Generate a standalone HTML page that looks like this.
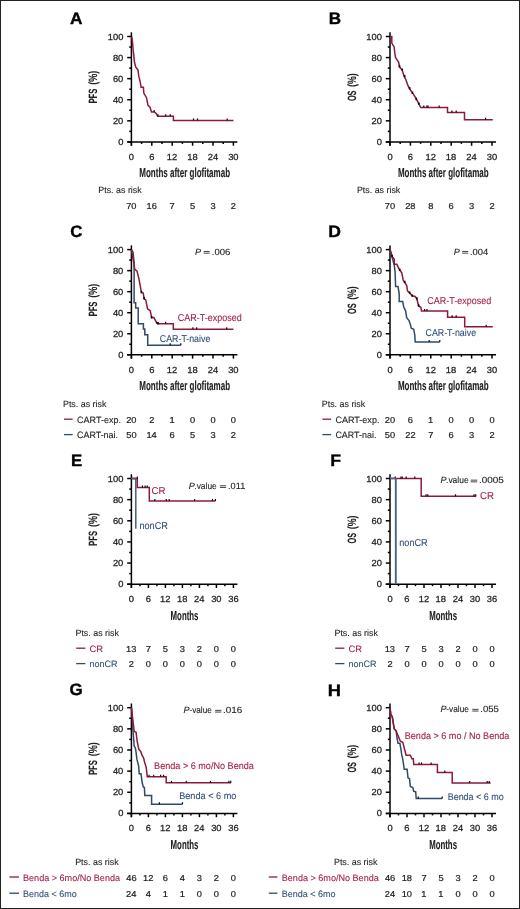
<!DOCTYPE html>
<html><head><meta charset="utf-8"><style>
html,body{margin:0;padding:0;background:#fff;}
svg{display:block;filter:grayscale(0);}
text{font-family:"Liberation Sans", sans-serif;text-rendering:geometricPrecision;}
</style></head><body>
<svg width="520" height="909" viewBox="0 0 520 909">
<g>
<rect x="0" y="0" width="520" height="909" fill="#fff"/>
<line x1="131.40" y1="32.30" x2="131.40" y2="145.70" stroke="#000" stroke-width="1.5"/>
<line x1="127.20" y1="141.90" x2="237.40" y2="141.90" stroke="#000" stroke-width="1.5"/>
<line x1="127.20" y1="141.90" x2="131.40" y2="141.90" stroke="#000" stroke-width="1.5"/>
<line x1="129.20" y1="131.36" x2="131.40" y2="131.36" stroke="#000" stroke-width="1.5"/>
<line x1="127.20" y1="120.82" x2="131.40" y2="120.82" stroke="#000" stroke-width="1.5"/>
<line x1="129.20" y1="110.28" x2="131.40" y2="110.28" stroke="#000" stroke-width="1.5"/>
<line x1="127.20" y1="99.74" x2="131.40" y2="99.74" stroke="#000" stroke-width="1.5"/>
<line x1="129.20" y1="89.20" x2="131.40" y2="89.20" stroke="#000" stroke-width="1.5"/>
<line x1="127.20" y1="78.66" x2="131.40" y2="78.66" stroke="#000" stroke-width="1.5"/>
<line x1="129.20" y1="68.12" x2="131.40" y2="68.12" stroke="#000" stroke-width="1.5"/>
<line x1="127.20" y1="57.58" x2="131.40" y2="57.58" stroke="#000" stroke-width="1.5"/>
<line x1="129.20" y1="47.04" x2="131.40" y2="47.04" stroke="#000" stroke-width="1.5"/>
<line x1="127.20" y1="36.50" x2="131.40" y2="36.50" stroke="#000" stroke-width="1.5"/>
<line x1="131.40" y1="141.90" x2="131.40" y2="145.70" stroke="#000" stroke-width="1.5"/>
<line x1="141.60" y1="141.90" x2="141.60" y2="143.90" stroke="#000" stroke-width="1.5"/>
<line x1="151.80" y1="141.90" x2="151.80" y2="145.70" stroke="#000" stroke-width="1.5"/>
<line x1="162.00" y1="141.90" x2="162.00" y2="143.90" stroke="#000" stroke-width="1.5"/>
<line x1="172.20" y1="141.90" x2="172.20" y2="145.70" stroke="#000" stroke-width="1.5"/>
<line x1="182.40" y1="141.90" x2="182.40" y2="143.90" stroke="#000" stroke-width="1.5"/>
<line x1="192.60" y1="141.90" x2="192.60" y2="145.70" stroke="#000" stroke-width="1.5"/>
<line x1="202.80" y1="141.90" x2="202.80" y2="143.90" stroke="#000" stroke-width="1.5"/>
<line x1="213.00" y1="141.90" x2="213.00" y2="145.70" stroke="#000" stroke-width="1.5"/>
<line x1="223.20" y1="141.90" x2="223.20" y2="143.90" stroke="#000" stroke-width="1.5"/>
<line x1="233.40" y1="141.90" x2="233.40" y2="145.70" stroke="#000" stroke-width="1.5"/>
<line x1="390.00" y1="32.30" x2="390.00" y2="145.70" stroke="#000" stroke-width="1.5"/>
<line x1="385.80" y1="141.90" x2="496.00" y2="141.90" stroke="#000" stroke-width="1.5"/>
<line x1="385.80" y1="141.90" x2="390.00" y2="141.90" stroke="#000" stroke-width="1.5"/>
<line x1="387.80" y1="131.36" x2="390.00" y2="131.36" stroke="#000" stroke-width="1.5"/>
<line x1="385.80" y1="120.82" x2="390.00" y2="120.82" stroke="#000" stroke-width="1.5"/>
<line x1="387.80" y1="110.28" x2="390.00" y2="110.28" stroke="#000" stroke-width="1.5"/>
<line x1="385.80" y1="99.74" x2="390.00" y2="99.74" stroke="#000" stroke-width="1.5"/>
<line x1="387.80" y1="89.20" x2="390.00" y2="89.20" stroke="#000" stroke-width="1.5"/>
<line x1="385.80" y1="78.66" x2="390.00" y2="78.66" stroke="#000" stroke-width="1.5"/>
<line x1="387.80" y1="68.12" x2="390.00" y2="68.12" stroke="#000" stroke-width="1.5"/>
<line x1="385.80" y1="57.58" x2="390.00" y2="57.58" stroke="#000" stroke-width="1.5"/>
<line x1="387.80" y1="47.04" x2="390.00" y2="47.04" stroke="#000" stroke-width="1.5"/>
<line x1="385.80" y1="36.50" x2="390.00" y2="36.50" stroke="#000" stroke-width="1.5"/>
<line x1="390.00" y1="141.90" x2="390.00" y2="145.70" stroke="#000" stroke-width="1.5"/>
<line x1="400.20" y1="141.90" x2="400.20" y2="143.90" stroke="#000" stroke-width="1.5"/>
<line x1="410.40" y1="141.90" x2="410.40" y2="145.70" stroke="#000" stroke-width="1.5"/>
<line x1="420.60" y1="141.90" x2="420.60" y2="143.90" stroke="#000" stroke-width="1.5"/>
<line x1="430.80" y1="141.90" x2="430.80" y2="145.70" stroke="#000" stroke-width="1.5"/>
<line x1="441.00" y1="141.90" x2="441.00" y2="143.90" stroke="#000" stroke-width="1.5"/>
<line x1="451.20" y1="141.90" x2="451.20" y2="145.70" stroke="#000" stroke-width="1.5"/>
<line x1="461.40" y1="141.90" x2="461.40" y2="143.90" stroke="#000" stroke-width="1.5"/>
<line x1="471.60" y1="141.90" x2="471.60" y2="145.70" stroke="#000" stroke-width="1.5"/>
<line x1="481.80" y1="141.90" x2="481.80" y2="143.90" stroke="#000" stroke-width="1.5"/>
<line x1="492.00" y1="141.90" x2="492.00" y2="145.70" stroke="#000" stroke-width="1.5"/>
<line x1="131.40" y1="245.40" x2="131.40" y2="358.60" stroke="#000" stroke-width="1.5"/>
<line x1="127.20" y1="354.80" x2="237.40" y2="354.80" stroke="#000" stroke-width="1.5"/>
<line x1="127.20" y1="354.80" x2="131.40" y2="354.80" stroke="#000" stroke-width="1.5"/>
<line x1="129.20" y1="344.28" x2="131.40" y2="344.28" stroke="#000" stroke-width="1.5"/>
<line x1="127.20" y1="333.76" x2="131.40" y2="333.76" stroke="#000" stroke-width="1.5"/>
<line x1="129.20" y1="323.24" x2="131.40" y2="323.24" stroke="#000" stroke-width="1.5"/>
<line x1="127.20" y1="312.72" x2="131.40" y2="312.72" stroke="#000" stroke-width="1.5"/>
<line x1="129.20" y1="302.20" x2="131.40" y2="302.20" stroke="#000" stroke-width="1.5"/>
<line x1="127.20" y1="291.68" x2="131.40" y2="291.68" stroke="#000" stroke-width="1.5"/>
<line x1="129.20" y1="281.16" x2="131.40" y2="281.16" stroke="#000" stroke-width="1.5"/>
<line x1="127.20" y1="270.64" x2="131.40" y2="270.64" stroke="#000" stroke-width="1.5"/>
<line x1="129.20" y1="260.12" x2="131.40" y2="260.12" stroke="#000" stroke-width="1.5"/>
<line x1="127.20" y1="249.60" x2="131.40" y2="249.60" stroke="#000" stroke-width="1.5"/>
<line x1="131.40" y1="354.80" x2="131.40" y2="358.60" stroke="#000" stroke-width="1.5"/>
<line x1="141.60" y1="354.80" x2="141.60" y2="356.80" stroke="#000" stroke-width="1.5"/>
<line x1="151.80" y1="354.80" x2="151.80" y2="358.60" stroke="#000" stroke-width="1.5"/>
<line x1="162.00" y1="354.80" x2="162.00" y2="356.80" stroke="#000" stroke-width="1.5"/>
<line x1="172.20" y1="354.80" x2="172.20" y2="358.60" stroke="#000" stroke-width="1.5"/>
<line x1="182.40" y1="354.80" x2="182.40" y2="356.80" stroke="#000" stroke-width="1.5"/>
<line x1="192.60" y1="354.80" x2="192.60" y2="358.60" stroke="#000" stroke-width="1.5"/>
<line x1="202.80" y1="354.80" x2="202.80" y2="356.80" stroke="#000" stroke-width="1.5"/>
<line x1="213.00" y1="354.80" x2="213.00" y2="358.60" stroke="#000" stroke-width="1.5"/>
<line x1="223.20" y1="354.80" x2="223.20" y2="356.80" stroke="#000" stroke-width="1.5"/>
<line x1="233.40" y1="354.80" x2="233.40" y2="358.60" stroke="#000" stroke-width="1.5"/>
<line x1="390.00" y1="245.40" x2="390.00" y2="358.60" stroke="#000" stroke-width="1.5"/>
<line x1="385.80" y1="354.80" x2="496.00" y2="354.80" stroke="#000" stroke-width="1.5"/>
<line x1="385.80" y1="354.80" x2="390.00" y2="354.80" stroke="#000" stroke-width="1.5"/>
<line x1="387.80" y1="344.28" x2="390.00" y2="344.28" stroke="#000" stroke-width="1.5"/>
<line x1="385.80" y1="333.76" x2="390.00" y2="333.76" stroke="#000" stroke-width="1.5"/>
<line x1="387.80" y1="323.24" x2="390.00" y2="323.24" stroke="#000" stroke-width="1.5"/>
<line x1="385.80" y1="312.72" x2="390.00" y2="312.72" stroke="#000" stroke-width="1.5"/>
<line x1="387.80" y1="302.20" x2="390.00" y2="302.20" stroke="#000" stroke-width="1.5"/>
<line x1="385.80" y1="291.68" x2="390.00" y2="291.68" stroke="#000" stroke-width="1.5"/>
<line x1="387.80" y1="281.16" x2="390.00" y2="281.16" stroke="#000" stroke-width="1.5"/>
<line x1="385.80" y1="270.64" x2="390.00" y2="270.64" stroke="#000" stroke-width="1.5"/>
<line x1="387.80" y1="260.12" x2="390.00" y2="260.12" stroke="#000" stroke-width="1.5"/>
<line x1="385.80" y1="249.60" x2="390.00" y2="249.60" stroke="#000" stroke-width="1.5"/>
<line x1="390.00" y1="354.80" x2="390.00" y2="358.60" stroke="#000" stroke-width="1.5"/>
<line x1="400.20" y1="354.80" x2="400.20" y2="356.80" stroke="#000" stroke-width="1.5"/>
<line x1="410.40" y1="354.80" x2="410.40" y2="358.60" stroke="#000" stroke-width="1.5"/>
<line x1="420.60" y1="354.80" x2="420.60" y2="356.80" stroke="#000" stroke-width="1.5"/>
<line x1="430.80" y1="354.80" x2="430.80" y2="358.60" stroke="#000" stroke-width="1.5"/>
<line x1="441.00" y1="354.80" x2="441.00" y2="356.80" stroke="#000" stroke-width="1.5"/>
<line x1="451.20" y1="354.80" x2="451.20" y2="358.60" stroke="#000" stroke-width="1.5"/>
<line x1="461.40" y1="354.80" x2="461.40" y2="356.80" stroke="#000" stroke-width="1.5"/>
<line x1="471.60" y1="354.80" x2="471.60" y2="358.60" stroke="#000" stroke-width="1.5"/>
<line x1="481.80" y1="354.80" x2="481.80" y2="356.80" stroke="#000" stroke-width="1.5"/>
<line x1="492.00" y1="354.80" x2="492.00" y2="358.60" stroke="#000" stroke-width="1.5"/>
<line x1="131.40" y1="474.30" x2="131.40" y2="588.00" stroke="#000" stroke-width="1.5"/>
<line x1="127.20" y1="584.20" x2="237.40" y2="584.20" stroke="#000" stroke-width="1.5"/>
<line x1="127.20" y1="584.20" x2="131.40" y2="584.20" stroke="#000" stroke-width="1.5"/>
<line x1="129.20" y1="573.63" x2="131.40" y2="573.63" stroke="#000" stroke-width="1.5"/>
<line x1="127.20" y1="563.06" x2="131.40" y2="563.06" stroke="#000" stroke-width="1.5"/>
<line x1="129.20" y1="552.49" x2="131.40" y2="552.49" stroke="#000" stroke-width="1.5"/>
<line x1="127.20" y1="541.92" x2="131.40" y2="541.92" stroke="#000" stroke-width="1.5"/>
<line x1="129.20" y1="531.35" x2="131.40" y2="531.35" stroke="#000" stroke-width="1.5"/>
<line x1="127.20" y1="520.78" x2="131.40" y2="520.78" stroke="#000" stroke-width="1.5"/>
<line x1="129.20" y1="510.21" x2="131.40" y2="510.21" stroke="#000" stroke-width="1.5"/>
<line x1="127.20" y1="499.64" x2="131.40" y2="499.64" stroke="#000" stroke-width="1.5"/>
<line x1="129.20" y1="489.07" x2="131.40" y2="489.07" stroke="#000" stroke-width="1.5"/>
<line x1="127.20" y1="478.50" x2="131.40" y2="478.50" stroke="#000" stroke-width="1.5"/>
<line x1="131.40" y1="584.20" x2="131.40" y2="588.00" stroke="#000" stroke-width="1.5"/>
<line x1="139.90" y1="584.20" x2="139.90" y2="586.20" stroke="#000" stroke-width="1.5"/>
<line x1="148.40" y1="584.20" x2="148.40" y2="588.00" stroke="#000" stroke-width="1.5"/>
<line x1="156.90" y1="584.20" x2="156.90" y2="586.20" stroke="#000" stroke-width="1.5"/>
<line x1="165.40" y1="584.20" x2="165.40" y2="588.00" stroke="#000" stroke-width="1.5"/>
<line x1="173.90" y1="584.20" x2="173.90" y2="586.20" stroke="#000" stroke-width="1.5"/>
<line x1="182.40" y1="584.20" x2="182.40" y2="588.00" stroke="#000" stroke-width="1.5"/>
<line x1="190.90" y1="584.20" x2="190.90" y2="586.20" stroke="#000" stroke-width="1.5"/>
<line x1="199.40" y1="584.20" x2="199.40" y2="588.00" stroke="#000" stroke-width="1.5"/>
<line x1="207.90" y1="584.20" x2="207.90" y2="586.20" stroke="#000" stroke-width="1.5"/>
<line x1="216.40" y1="584.20" x2="216.40" y2="588.00" stroke="#000" stroke-width="1.5"/>
<line x1="224.90" y1="584.20" x2="224.90" y2="586.20" stroke="#000" stroke-width="1.5"/>
<line x1="233.40" y1="584.20" x2="233.40" y2="588.00" stroke="#000" stroke-width="1.5"/>
<line x1="390.00" y1="474.30" x2="390.00" y2="588.00" stroke="#000" stroke-width="1.5"/>
<line x1="385.80" y1="584.20" x2="496.00" y2="584.20" stroke="#000" stroke-width="1.5"/>
<line x1="385.80" y1="584.20" x2="390.00" y2="584.20" stroke="#000" stroke-width="1.5"/>
<line x1="387.80" y1="573.63" x2="390.00" y2="573.63" stroke="#000" stroke-width="1.5"/>
<line x1="385.80" y1="563.06" x2="390.00" y2="563.06" stroke="#000" stroke-width="1.5"/>
<line x1="387.80" y1="552.49" x2="390.00" y2="552.49" stroke="#000" stroke-width="1.5"/>
<line x1="385.80" y1="541.92" x2="390.00" y2="541.92" stroke="#000" stroke-width="1.5"/>
<line x1="387.80" y1="531.35" x2="390.00" y2="531.35" stroke="#000" stroke-width="1.5"/>
<line x1="385.80" y1="520.78" x2="390.00" y2="520.78" stroke="#000" stroke-width="1.5"/>
<line x1="387.80" y1="510.21" x2="390.00" y2="510.21" stroke="#000" stroke-width="1.5"/>
<line x1="385.80" y1="499.64" x2="390.00" y2="499.64" stroke="#000" stroke-width="1.5"/>
<line x1="387.80" y1="489.07" x2="390.00" y2="489.07" stroke="#000" stroke-width="1.5"/>
<line x1="385.80" y1="478.50" x2="390.00" y2="478.50" stroke="#000" stroke-width="1.5"/>
<line x1="390.00" y1="584.20" x2="390.00" y2="588.00" stroke="#000" stroke-width="1.5"/>
<line x1="398.50" y1="584.20" x2="398.50" y2="586.20" stroke="#000" stroke-width="1.5"/>
<line x1="407.00" y1="584.20" x2="407.00" y2="588.00" stroke="#000" stroke-width="1.5"/>
<line x1="415.50" y1="584.20" x2="415.50" y2="586.20" stroke="#000" stroke-width="1.5"/>
<line x1="424.00" y1="584.20" x2="424.00" y2="588.00" stroke="#000" stroke-width="1.5"/>
<line x1="432.50" y1="584.20" x2="432.50" y2="586.20" stroke="#000" stroke-width="1.5"/>
<line x1="441.00" y1="584.20" x2="441.00" y2="588.00" stroke="#000" stroke-width="1.5"/>
<line x1="449.50" y1="584.20" x2="449.50" y2="586.20" stroke="#000" stroke-width="1.5"/>
<line x1="458.00" y1="584.20" x2="458.00" y2="588.00" stroke="#000" stroke-width="1.5"/>
<line x1="466.50" y1="584.20" x2="466.50" y2="586.20" stroke="#000" stroke-width="1.5"/>
<line x1="475.00" y1="584.20" x2="475.00" y2="588.00" stroke="#000" stroke-width="1.5"/>
<line x1="483.50" y1="584.20" x2="483.50" y2="586.20" stroke="#000" stroke-width="1.5"/>
<line x1="492.00" y1="584.20" x2="492.00" y2="588.00" stroke="#000" stroke-width="1.5"/>
<line x1="131.40" y1="703.50" x2="131.40" y2="817.20" stroke="#000" stroke-width="1.5"/>
<line x1="127.20" y1="813.40" x2="237.40" y2="813.40" stroke="#000" stroke-width="1.5"/>
<line x1="127.20" y1="813.40" x2="131.40" y2="813.40" stroke="#000" stroke-width="1.5"/>
<line x1="129.20" y1="802.83" x2="131.40" y2="802.83" stroke="#000" stroke-width="1.5"/>
<line x1="127.20" y1="792.26" x2="131.40" y2="792.26" stroke="#000" stroke-width="1.5"/>
<line x1="129.20" y1="781.69" x2="131.40" y2="781.69" stroke="#000" stroke-width="1.5"/>
<line x1="127.20" y1="771.12" x2="131.40" y2="771.12" stroke="#000" stroke-width="1.5"/>
<line x1="129.20" y1="760.55" x2="131.40" y2="760.55" stroke="#000" stroke-width="1.5"/>
<line x1="127.20" y1="749.98" x2="131.40" y2="749.98" stroke="#000" stroke-width="1.5"/>
<line x1="129.20" y1="739.41" x2="131.40" y2="739.41" stroke="#000" stroke-width="1.5"/>
<line x1="127.20" y1="728.84" x2="131.40" y2="728.84" stroke="#000" stroke-width="1.5"/>
<line x1="129.20" y1="718.27" x2="131.40" y2="718.27" stroke="#000" stroke-width="1.5"/>
<line x1="127.20" y1="707.70" x2="131.40" y2="707.70" stroke="#000" stroke-width="1.5"/>
<line x1="131.40" y1="813.40" x2="131.40" y2="817.20" stroke="#000" stroke-width="1.5"/>
<line x1="139.90" y1="813.40" x2="139.90" y2="815.40" stroke="#000" stroke-width="1.5"/>
<line x1="148.40" y1="813.40" x2="148.40" y2="817.20" stroke="#000" stroke-width="1.5"/>
<line x1="156.90" y1="813.40" x2="156.90" y2="815.40" stroke="#000" stroke-width="1.5"/>
<line x1="165.40" y1="813.40" x2="165.40" y2="817.20" stroke="#000" stroke-width="1.5"/>
<line x1="173.90" y1="813.40" x2="173.90" y2="815.40" stroke="#000" stroke-width="1.5"/>
<line x1="182.40" y1="813.40" x2="182.40" y2="817.20" stroke="#000" stroke-width="1.5"/>
<line x1="190.90" y1="813.40" x2="190.90" y2="815.40" stroke="#000" stroke-width="1.5"/>
<line x1="199.40" y1="813.40" x2="199.40" y2="817.20" stroke="#000" stroke-width="1.5"/>
<line x1="207.90" y1="813.40" x2="207.90" y2="815.40" stroke="#000" stroke-width="1.5"/>
<line x1="216.40" y1="813.40" x2="216.40" y2="817.20" stroke="#000" stroke-width="1.5"/>
<line x1="224.90" y1="813.40" x2="224.90" y2="815.40" stroke="#000" stroke-width="1.5"/>
<line x1="233.40" y1="813.40" x2="233.40" y2="817.20" stroke="#000" stroke-width="1.5"/>
<line x1="390.00" y1="703.50" x2="390.00" y2="817.20" stroke="#000" stroke-width="1.5"/>
<line x1="385.80" y1="813.40" x2="496.00" y2="813.40" stroke="#000" stroke-width="1.5"/>
<line x1="385.80" y1="813.40" x2="390.00" y2="813.40" stroke="#000" stroke-width="1.5"/>
<line x1="387.80" y1="802.83" x2="390.00" y2="802.83" stroke="#000" stroke-width="1.5"/>
<line x1="385.80" y1="792.26" x2="390.00" y2="792.26" stroke="#000" stroke-width="1.5"/>
<line x1="387.80" y1="781.69" x2="390.00" y2="781.69" stroke="#000" stroke-width="1.5"/>
<line x1="385.80" y1="771.12" x2="390.00" y2="771.12" stroke="#000" stroke-width="1.5"/>
<line x1="387.80" y1="760.55" x2="390.00" y2="760.55" stroke="#000" stroke-width="1.5"/>
<line x1="385.80" y1="749.98" x2="390.00" y2="749.98" stroke="#000" stroke-width="1.5"/>
<line x1="387.80" y1="739.41" x2="390.00" y2="739.41" stroke="#000" stroke-width="1.5"/>
<line x1="385.80" y1="728.84" x2="390.00" y2="728.84" stroke="#000" stroke-width="1.5"/>
<line x1="387.80" y1="718.27" x2="390.00" y2="718.27" stroke="#000" stroke-width="1.5"/>
<line x1="385.80" y1="707.70" x2="390.00" y2="707.70" stroke="#000" stroke-width="1.5"/>
<line x1="390.00" y1="813.40" x2="390.00" y2="817.20" stroke="#000" stroke-width="1.5"/>
<line x1="398.50" y1="813.40" x2="398.50" y2="815.40" stroke="#000" stroke-width="1.5"/>
<line x1="407.00" y1="813.40" x2="407.00" y2="817.20" stroke="#000" stroke-width="1.5"/>
<line x1="415.50" y1="813.40" x2="415.50" y2="815.40" stroke="#000" stroke-width="1.5"/>
<line x1="424.00" y1="813.40" x2="424.00" y2="817.20" stroke="#000" stroke-width="1.5"/>
<line x1="432.50" y1="813.40" x2="432.50" y2="815.40" stroke="#000" stroke-width="1.5"/>
<line x1="441.00" y1="813.40" x2="441.00" y2="817.20" stroke="#000" stroke-width="1.5"/>
<line x1="449.50" y1="813.40" x2="449.50" y2="815.40" stroke="#000" stroke-width="1.5"/>
<line x1="458.00" y1="813.40" x2="458.00" y2="817.20" stroke="#000" stroke-width="1.5"/>
<line x1="466.50" y1="813.40" x2="466.50" y2="815.40" stroke="#000" stroke-width="1.5"/>
<line x1="475.00" y1="813.40" x2="475.00" y2="817.20" stroke="#000" stroke-width="1.5"/>
<line x1="483.50" y1="813.40" x2="483.50" y2="815.40" stroke="#000" stroke-width="1.5"/>
<line x1="492.00" y1="813.40" x2="492.00" y2="817.20" stroke="#000" stroke-width="1.5"/>
<polyline points="131.40,249.60 133.00,252.00 134.10,262.00 134.10,302.70 135.70,302.70 135.70,308.00 138.20,308.00 138.20,323.80 143.40,323.80 143.40,329.00 144.80,329.00 144.80,334.80 147.70,334.80 147.70,345.30 180.80,345.30" fill="none" stroke="#304a68" stroke-width="1.5" stroke-linejoin="miter"/>
<polyline points="390.00,249.60 391.50,254.00 392.70,259.20 394.20,265.00 395.10,271.70 395.60,286.60 398.00,286.60 399.20,293.80 399.20,301.50 402.70,301.50 403.80,307.30 405.60,310.80 406.70,317.70 409.00,320.60 410.20,324.00 411.30,328.10 413.70,329.20 414.80,335.00 415.20,341.90 439.80,341.90" fill="none" stroke="#304a68" stroke-width="1.5" stroke-linejoin="miter"/>
<polyline points="131.40,478.50 135.80,478.50 135.80,528.80" fill="none" stroke="#45607f" stroke-width="1.5" stroke-linejoin="miter"/>
<polyline points="131.40,707.70 132.20,715.00 133.00,730.80 133.80,740.80 134.20,746.20 135.30,747.70 136.10,752.30 136.90,759.20 138.70,766.20 139.20,773.70 141.00,773.70 142.10,782.30 143.30,786.90 144.40,787.50 144.80,795.60 151.60,795.60 151.60,804.20 182.50,804.20" fill="none" stroke="#304a68" stroke-width="1.5" stroke-linejoin="miter"/>
<polyline points="390.00,707.70 390.80,714.40 392.30,716.80 394.20,728.80 396.10,730.80 397.10,738.50 398.00,743.30 399.90,743.30 400.90,749.00 401.90,755.80 402.30,756.70 403.70,765.40 404.20,769.20 407.10,769.20 408.00,777.90 409.50,778.80 410.40,786.50 412.80,787.50 413.80,791.30 415.70,791.80 416.20,798.60 442.20,798.60" fill="none" stroke="#304a68" stroke-width="1.5" stroke-linejoin="miter"/>
<polyline points="131.40,36.50 132.00,38.00 132.60,43.10 133.00,48.50 133.80,55.40 134.50,62.30 135.70,66.90 138.00,70.00 138.80,76.20 140.30,82.30 141.10,87.30 143.40,87.30 143.80,93.10 146.50,97.70 148.00,105.40 149.90,106.90 151.50,111.90 154.20,111.90 156.50,113.80 157.60,116.20 173.40,116.20 173.40,120.40 233.40,120.40" fill="none" stroke="#8c1a3b" stroke-width="1.5" stroke-linejoin="miter"/>
<line x1="154.20" y1="111.90" x2="154.20" y2="109.90" stroke="#1e0509" stroke-width="1.2"/>
<line x1="158.00" y1="116.20" x2="158.00" y2="114.20" stroke="#1e0509" stroke-width="1.2"/>
<line x1="165.70" y1="116.20" x2="165.70" y2="114.20" stroke="#1e0509" stroke-width="1.2"/>
<line x1="170.30" y1="116.20" x2="170.30" y2="114.20" stroke="#1e0509" stroke-width="1.2"/>
<line x1="193.50" y1="120.40" x2="193.50" y2="118.40" stroke="#1e0509" stroke-width="1.2"/>
<line x1="197.50" y1="120.40" x2="197.50" y2="118.40" stroke="#1e0509" stroke-width="1.2"/>
<line x1="227.20" y1="120.40" x2="227.20" y2="118.40" stroke="#1e0509" stroke-width="1.2"/>
<polyline points="390.00,36.50 391.80,36.50 391.80,43.10 394.10,46.90 394.80,53.10 395.60,57.70 398.70,62.30 399.50,66.90 402.20,70.00 404.10,76.20 406.00,80.00 407.90,85.40 409.80,89.20 410.40,90.00 412.70,93.10 416.50,99.20 418.80,103.80 420.80,107.60 447.50,107.60 447.50,112.40 464.50,112.40 464.50,119.80 492.80,119.80" fill="none" stroke="#8c1a3b" stroke-width="1.5" stroke-linejoin="miter"/>
<line x1="423.80" y1="107.60" x2="423.80" y2="105.60" stroke="#1e0509" stroke-width="1.2"/>
<line x1="426.90" y1="107.60" x2="426.90" y2="105.60" stroke="#1e0509" stroke-width="1.2"/>
<line x1="428.00" y1="107.60" x2="428.00" y2="105.60" stroke="#1e0509" stroke-width="1.2"/>
<line x1="439.20" y1="107.60" x2="439.20" y2="105.60" stroke="#1e0509" stroke-width="1.2"/>
<line x1="451.90" y1="112.40" x2="451.90" y2="110.40" stroke="#1e0509" stroke-width="1.2"/>
<line x1="456.20" y1="112.40" x2="456.20" y2="110.40" stroke="#1e0509" stroke-width="1.2"/>
<line x1="485.60" y1="119.80" x2="485.60" y2="117.80" stroke="#1e0509" stroke-width="1.2"/>
<line x1="399.50" y1="65.10" x2="399.50" y2="67.50" stroke="#1e0509" stroke-width="1.6"/>
<line x1="402.20" y1="68.40" x2="402.20" y2="70.80" stroke="#1e0509" stroke-width="1.6"/>
<line x1="404.60" y1="74.90" x2="404.60" y2="77.30" stroke="#1e0509" stroke-width="1.6"/>
<line x1="409.60" y1="87.10" x2="409.60" y2="89.50" stroke="#1e0509" stroke-width="1.6"/>
<line x1="412.40" y1="91.60" x2="412.40" y2="94.00" stroke="#1e0509" stroke-width="1.6"/>
<line x1="416.20" y1="97.80" x2="416.20" y2="100.20" stroke="#1e0509" stroke-width="1.6"/>
<line x1="418.90" y1="102.40" x2="418.90" y2="104.80" stroke="#1e0509" stroke-width="1.6"/>
<polyline points="131.40,249.60 131.80,252.00 133.50,261.40 134.80,269.40 137.00,271.10 138.80,278.20 140.60,287.90 141.40,292.30 143.20,293.10 144.10,298.40 145.80,300.20 147.60,309.00 150.20,310.70 151.60,317.50 153.80,317.50 156.40,322.20 158.00,323.70 173.30,323.70 173.30,329.20 233.40,329.20" fill="none" stroke="#8c1a3b" stroke-width="1.5" stroke-linejoin="miter"/>
<line x1="141.40" y1="290.90" x2="141.40" y2="293.30" stroke="#1e0509" stroke-width="1.6"/>
<line x1="144.10" y1="297.00" x2="144.10" y2="299.40" stroke="#1e0509" stroke-width="1.6"/>
<line x1="151.60" y1="316.10" x2="151.60" y2="318.50" stroke="#1e0509" stroke-width="1.6"/>
<line x1="158.00" y1="322.00" x2="158.00" y2="324.40" stroke="#1e0509" stroke-width="1.6"/>
<line x1="156.80" y1="323.70" x2="156.80" y2="321.70" stroke="#1e0509" stroke-width="1.2"/>
<line x1="165.60" y1="323.70" x2="165.60" y2="321.70" stroke="#1e0509" stroke-width="1.2"/>
<line x1="192.90" y1="329.20" x2="192.90" y2="327.20" stroke="#1e0509" stroke-width="1.2"/>
<line x1="196.70" y1="329.20" x2="196.70" y2="327.20" stroke="#1e0509" stroke-width="1.2"/>
<line x1="226.70" y1="329.20" x2="226.70" y2="327.20" stroke="#1e0509" stroke-width="1.2"/>
<line x1="170.20" y1="345.30" x2="170.20" y2="343.30" stroke="#0a121c" stroke-width="1.2"/>
<line x1="180.80" y1="345.30" x2="180.80" y2="343.30" stroke="#0a121c" stroke-width="1.2"/>
<polyline points="390.00,249.60 391.00,253.00 392.10,256.40 394.30,259.30 394.30,264.30 396.80,264.30 399.70,270.00 401.80,272.90 403.20,280.10 404.70,282.20 406.80,285.80 407.50,290.80 409.70,292.90 412.20,295.80 415.10,296.50 416.80,298.70 418.60,305.80 420.80,307.30 421.50,311.10 447.60,311.10 447.60,317.20 464.70,317.20 464.70,326.80 492.80,326.80" fill="none" stroke="#8c1a3b" stroke-width="1.5" stroke-linejoin="miter"/>
<line x1="392.10" y1="255.00" x2="392.10" y2="257.40" stroke="#1e0509" stroke-width="1.6"/>
<line x1="399.70" y1="268.60" x2="399.70" y2="271.00" stroke="#1e0509" stroke-width="1.6"/>
<line x1="404.70" y1="280.80" x2="404.70" y2="283.20" stroke="#1e0509" stroke-width="1.6"/>
<line x1="409.70" y1="291.50" x2="409.70" y2="293.90" stroke="#1e0509" stroke-width="1.6"/>
<line x1="412.20" y1="294.40" x2="412.20" y2="296.80" stroke="#1e0509" stroke-width="1.6"/>
<line x1="416.80" y1="297.30" x2="416.80" y2="299.70" stroke="#1e0509" stroke-width="1.6"/>
<line x1="418.60" y1="304.40" x2="418.60" y2="306.80" stroke="#1e0509" stroke-width="1.6"/>
<line x1="424.60" y1="311.10" x2="424.60" y2="309.10" stroke="#1e0509" stroke-width="1.2"/>
<line x1="426.90" y1="311.10" x2="426.90" y2="309.10" stroke="#1e0509" stroke-width="1.2"/>
<line x1="452.10" y1="317.20" x2="452.10" y2="315.20" stroke="#1e0509" stroke-width="1.2"/>
<line x1="456.20" y1="317.20" x2="456.20" y2="315.20" stroke="#1e0509" stroke-width="1.2"/>
<line x1="486.20" y1="326.80" x2="486.20" y2="324.80" stroke="#1e0509" stroke-width="1.2"/>
<line x1="429.20" y1="341.90" x2="429.20" y2="339.90" stroke="#0a121c" stroke-width="1.2"/>
<line x1="439.80" y1="341.90" x2="439.80" y2="339.90" stroke="#0a121c" stroke-width="1.2"/>
<polyline points="131.40,478.50 137.30,478.50 137.30,487.60 149.30,487.60 149.30,500.90 215.40,500.90" fill="none" stroke="#8c1a3b" stroke-width="1.5" stroke-linejoin="miter"/>
<line x1="137.30" y1="478.50" x2="137.30" y2="476.50" stroke="#1e0509" stroke-width="1.2"/>
<line x1="142.40" y1="487.60" x2="142.40" y2="485.60" stroke="#1e0509" stroke-width="1.2"/>
<line x1="145.10" y1="487.60" x2="145.10" y2="485.60" stroke="#1e0509" stroke-width="1.2"/>
<line x1="147.20" y1="487.60" x2="147.20" y2="485.60" stroke="#1e0509" stroke-width="1.2"/>
<line x1="154.80" y1="500.90" x2="154.80" y2="498.90" stroke="#1e0509" stroke-width="1.2"/>
<line x1="166.30" y1="500.90" x2="166.30" y2="498.90" stroke="#1e0509" stroke-width="1.2"/>
<line x1="169.20" y1="500.90" x2="169.20" y2="498.90" stroke="#1e0509" stroke-width="1.2"/>
<line x1="194.60" y1="500.90" x2="194.60" y2="498.90" stroke="#1e0509" stroke-width="1.2"/>
<line x1="212.50" y1="500.90" x2="212.50" y2="498.90" stroke="#1e0509" stroke-width="1.2"/>
<line x1="215.40" y1="500.90" x2="215.40" y2="498.90" stroke="#1e0509" stroke-width="1.2"/>
<polyline points="390.00,478.40 421.20,478.40 421.20,496.30 476.20,496.30" fill="none" stroke="#8c1a3b" stroke-width="1.5" stroke-linejoin="miter"/>
<line x1="395.20" y1="478.40" x2="395.20" y2="476.40" stroke="#1e0509" stroke-width="1.2"/>
<line x1="401.00" y1="478.40" x2="401.00" y2="476.40" stroke="#1e0509" stroke-width="1.2"/>
<line x1="402.20" y1="478.40" x2="402.20" y2="476.40" stroke="#1e0509" stroke-width="1.2"/>
<line x1="406.20" y1="478.40" x2="406.20" y2="476.40" stroke="#1e0509" stroke-width="1.2"/>
<line x1="414.80" y1="478.40" x2="414.80" y2="476.40" stroke="#1e0509" stroke-width="1.2"/>
<line x1="426.00" y1="496.30" x2="426.00" y2="494.30" stroke="#1e0509" stroke-width="1.2"/>
<line x1="427.80" y1="496.30" x2="427.80" y2="494.30" stroke="#1e0509" stroke-width="1.2"/>
<line x1="455.50" y1="496.30" x2="455.50" y2="494.30" stroke="#1e0509" stroke-width="1.2"/>
<line x1="474.00" y1="496.30" x2="474.00" y2="494.30" stroke="#1e0509" stroke-width="1.2"/>
<line x1="475.70" y1="496.30" x2="475.70" y2="494.30" stroke="#1e0509" stroke-width="1.2"/>
<line x1="390.00" y1="478.40" x2="395.80" y2="478.40" stroke="#4a6483" stroke-width="1.5"/>
<line x1="395.80" y1="478.40" x2="395.80" y2="584.20" stroke="#4a6483" stroke-width="1.9"/>
<polyline points="131.40,707.70 132.00,712.00 132.60,718.50 133.40,724.60 134.20,731.50 136.10,732.30 137.20,741.50 138.80,749.20 140.70,751.50 141.80,754.60 143.80,758.50 144.40,761.50 146.20,767.30 147.30,776.80 166.20,776.80 166.20,782.80 231.00,782.80" fill="none" stroke="#8c1a3b" stroke-width="1.5" stroke-linejoin="miter"/>
<line x1="149.00" y1="776.80" x2="149.00" y2="774.80" stroke="#1e0509" stroke-width="1.2"/>
<line x1="153.70" y1="776.80" x2="153.70" y2="774.80" stroke="#1e0509" stroke-width="1.2"/>
<line x1="160.60" y1="776.80" x2="160.60" y2="774.80" stroke="#1e0509" stroke-width="1.2"/>
<line x1="163.50" y1="776.80" x2="163.50" y2="774.80" stroke="#1e0509" stroke-width="1.2"/>
<line x1="171.50" y1="782.80" x2="171.50" y2="780.80" stroke="#1e0509" stroke-width="1.2"/>
<line x1="186.20" y1="782.80" x2="186.20" y2="780.80" stroke="#1e0509" stroke-width="1.2"/>
<line x1="210.50" y1="782.80" x2="210.50" y2="780.80" stroke="#1e0509" stroke-width="1.2"/>
<line x1="228.90" y1="782.80" x2="228.90" y2="780.80" stroke="#1e0509" stroke-width="1.2"/>
<line x1="230.80" y1="782.80" x2="230.80" y2="780.80" stroke="#1e0509" stroke-width="1.2"/>
<line x1="159.40" y1="804.20" x2="159.40" y2="802.20" stroke="#0a121c" stroke-width="1.2"/>
<line x1="182.50" y1="804.20" x2="182.50" y2="802.20" stroke="#0a121c" stroke-width="1.2"/>
<polyline points="390.00,707.70 390.80,714.40 392.30,716.80 394.20,728.80 396.10,730.80 398.00,735.60 400.40,741.30 402.80,742.30 406.10,755.30 410.40,755.30 411.90,758.70 413.30,758.70 413.80,764.40 437.40,764.40 437.40,772.50 452.20,772.50 452.20,782.90 490.60,782.90" fill="none" stroke="#8c1a3b" stroke-width="1.5" stroke-linejoin="miter"/>
<line x1="419.10" y1="764.40" x2="419.10" y2="762.40" stroke="#1e0509" stroke-width="1.2"/>
<line x1="421.50" y1="764.40" x2="421.50" y2="762.40" stroke="#1e0509" stroke-width="1.2"/>
<line x1="431.10" y1="764.40" x2="431.10" y2="762.40" stroke="#1e0509" stroke-width="1.2"/>
<line x1="444.80" y1="772.50" x2="444.80" y2="770.50" stroke="#1e0509" stroke-width="1.2"/>
<line x1="469.70" y1="782.90" x2="469.70" y2="780.90" stroke="#1e0509" stroke-width="1.2"/>
<line x1="487.20" y1="782.90" x2="487.20" y2="780.90" stroke="#1e0509" stroke-width="1.2"/>
<line x1="489.20" y1="782.90" x2="489.20" y2="780.90" stroke="#1e0509" stroke-width="1.2"/>
<line x1="418.30" y1="798.60" x2="418.30" y2="796.60" stroke="#0a121c" stroke-width="1.2"/>
<line x1="442.20" y1="798.60" x2="442.20" y2="796.60" stroke="#0a121c" stroke-width="1.2"/>
<line x1="203.60" y1="251.45" x2="209.70" y2="251.45" stroke="#3a3a3a" stroke-width="0.95"/>
<line x1="203.60" y1="253.15" x2="209.70" y2="253.15" stroke="#3a3a3a" stroke-width="0.95"/>
<line x1="462.20" y1="251.45" x2="468.20" y2="251.45" stroke="#3a3a3a" stroke-width="0.95"/>
<line x1="462.20" y1="253.15" x2="468.20" y2="253.15" stroke="#3a3a3a" stroke-width="0.95"/>
<line x1="219.90" y1="485.75" x2="226.10" y2="485.75" stroke="#3a3a3a" stroke-width="0.95"/>
<line x1="219.90" y1="487.45" x2="226.10" y2="487.45" stroke="#3a3a3a" stroke-width="0.95"/>
<line x1="470.70" y1="480.15" x2="477.20" y2="480.15" stroke="#3a3a3a" stroke-width="0.95"/>
<line x1="470.70" y1="481.85" x2="477.20" y2="481.85" stroke="#3a3a3a" stroke-width="0.95"/>
<line x1="215.10" y1="710.35" x2="221.30" y2="710.35" stroke="#3a3a3a" stroke-width="0.95"/>
<line x1="215.10" y1="712.05" x2="221.30" y2="712.05" stroke="#3a3a3a" stroke-width="0.95"/>
<line x1="472.30" y1="709.35" x2="478.50" y2="709.35" stroke="#3a3a3a" stroke-width="0.95"/>
<line x1="472.30" y1="711.05" x2="478.50" y2="711.05" stroke="#3a3a3a" stroke-width="0.95"/>
<line x1="64.00" y1="419.20" x2="72.70" y2="419.20" stroke="#8c1a3b" stroke-width="1.3"/>
<line x1="64.00" y1="434.60" x2="72.70" y2="434.60" stroke="#304a68" stroke-width="1.3"/>
<line x1="322.40" y1="419.20" x2="331.10" y2="419.20" stroke="#8c1a3b" stroke-width="1.3"/>
<line x1="322.40" y1="434.60" x2="331.10" y2="434.60" stroke="#304a68" stroke-width="1.3"/>
<line x1="76.20" y1="648.20" x2="85.40" y2="648.20" stroke="#8c1a3b" stroke-width="1.3"/>
<line x1="76.20" y1="663.60" x2="85.40" y2="663.60" stroke="#304a68" stroke-width="1.3"/>
<line x1="335.20" y1="648.20" x2="344.40" y2="648.20" stroke="#8c1a3b" stroke-width="1.3"/>
<line x1="335.20" y1="663.60" x2="344.40" y2="663.60" stroke="#304a68" stroke-width="1.3"/>
<line x1="9.40" y1="877.00" x2="19.00" y2="877.00" stroke="#8c1a3b" stroke-width="1.3"/>
<line x1="9.40" y1="893.20" x2="19.00" y2="893.20" stroke="#304a68" stroke-width="1.3"/>
<line x1="268.80" y1="877.00" x2="277.40" y2="877.00" stroke="#8c1a3b" stroke-width="1.3"/>
<line x1="268.80" y1="893.20" x2="277.40" y2="893.20" stroke="#304a68" stroke-width="1.3"/>
<line x1="131.40" y1="478.50" x2="135.80" y2="478.50" stroke="#45607f" stroke-width="1.5"/>
<text x="69.97" y="23.70" font-size="16.6" textLength="12.50" lengthAdjust="spacingAndGlyphs" fill="#000" stroke="#000" stroke-width="0.35" font-weight="bold" font-style="normal">A</text>
<text x="328.79" y="23.70" font-size="16.6" textLength="12.31" lengthAdjust="spacingAndGlyphs" fill="#000" stroke="#000" stroke-width="0.35" font-weight="bold" font-style="normal">B</text>
<text x="70.33" y="236.90" font-size="16.6" textLength="12.13" lengthAdjust="spacingAndGlyphs" fill="#000" stroke="#000" stroke-width="0.35" font-weight="bold" font-style="normal">C</text>
<text x="328.26" y="236.80" font-size="16.6" textLength="12.68" lengthAdjust="spacingAndGlyphs" fill="#000" stroke="#000" stroke-width="0.35" font-weight="bold" font-style="normal">D</text>
<text x="71.11" y="465.90" font-size="16.6" textLength="11.22" lengthAdjust="spacingAndGlyphs" fill="#000" stroke="#000" stroke-width="0.35" font-weight="bold" font-style="normal">E</text>
<text x="330.25" y="466.10" font-size="16.6" textLength="10.78" lengthAdjust="spacingAndGlyphs" fill="#000" stroke="#000" stroke-width="0.35" font-weight="bold" font-style="normal">F</text>
<text x="69.62" y="695.20" font-size="16.6" textLength="13.25" lengthAdjust="spacingAndGlyphs" fill="#000" stroke="#000" stroke-width="0.35" font-weight="bold" font-style="normal">G</text>
<text x="327.81" y="695.60" font-size="16.6" textLength="13.22" lengthAdjust="spacingAndGlyphs" fill="#000" stroke="#000" stroke-width="0.35" font-weight="bold" font-style="normal">H</text>
<text x="118.17" y="144.90" font-size="8.8" textLength="5.22" lengthAdjust="spacingAndGlyphs" fill="#222" stroke="#222" stroke-width="0.25" font-weight="normal" font-style="normal">0</text>
<text x="112.92" y="123.82" font-size="8.8" textLength="10.43" lengthAdjust="spacingAndGlyphs" fill="#222" stroke="#222" stroke-width="0.25" font-weight="normal" font-style="normal">20</text>
<text x="112.92" y="102.74" font-size="8.8" textLength="10.43" lengthAdjust="spacingAndGlyphs" fill="#222" stroke="#222" stroke-width="0.25" font-weight="normal" font-style="normal">40</text>
<text x="112.92" y="81.66" font-size="8.8" textLength="10.43" lengthAdjust="spacingAndGlyphs" fill="#222" stroke="#222" stroke-width="0.25" font-weight="normal" font-style="normal">60</text>
<text x="112.92" y="60.58" font-size="8.8" textLength="10.43" lengthAdjust="spacingAndGlyphs" fill="#222" stroke="#222" stroke-width="0.25" font-weight="normal" font-style="normal">80</text>
<text x="107.71" y="39.50" font-size="8.8" textLength="15.65" lengthAdjust="spacingAndGlyphs" fill="#222" stroke="#222" stroke-width="0.25" font-weight="normal" font-style="normal">100</text>
<text x="128.80" y="159.50" font-size="8.8" textLength="5.22" lengthAdjust="spacingAndGlyphs" fill="#222" stroke="#222" stroke-width="0.25" font-weight="normal" font-style="normal">0</text>
<text x="149.17" y="159.50" font-size="8.8" textLength="5.22" lengthAdjust="spacingAndGlyphs" fill="#222" stroke="#222" stroke-width="0.25" font-weight="normal" font-style="normal">6</text>
<text x="166.88" y="159.50" font-size="8.8" textLength="10.43" lengthAdjust="spacingAndGlyphs" fill="#222" stroke="#222" stroke-width="0.25" font-weight="normal" font-style="normal">12</text>
<text x="187.23" y="159.50" font-size="8.8" textLength="10.43" lengthAdjust="spacingAndGlyphs" fill="#222" stroke="#222" stroke-width="0.25" font-weight="normal" font-style="normal">18</text>
<text x="207.68" y="159.50" font-size="8.8" textLength="10.43" lengthAdjust="spacingAndGlyphs" fill="#222" stroke="#222" stroke-width="0.25" font-weight="normal" font-style="normal">24</text>
<text x="228.17" y="159.50" font-size="8.8" textLength="10.43" lengthAdjust="spacingAndGlyphs" fill="#222" stroke="#222" stroke-width="0.25" font-weight="normal" font-style="normal">30</text>
<text transform="translate(96.60,103.10) rotate(-90)" x="-0.50" y="0" font-size="12.0" textLength="15.01" lengthAdjust="spacingAndGlyphs" fill="#222" stroke="#222" stroke-width="0.1" font-weight="bold" font-style="normal">PFS</text>
<text transform="translate(96.60,84.30) rotate(-90)" x="-0.45" y="0" font-size="12.0" textLength="14.00" lengthAdjust="spacingAndGlyphs" fill="#222" stroke="#222" stroke-width="0.1" font-weight="bold" font-style="normal">(%)</text>
<text x="139.28" y="177.00" font-size="13.0" textLength="90.77" lengthAdjust="spacingAndGlyphs" fill="#222" stroke="#222" stroke-width="0.1" font-weight="bold" font-style="normal">Months after glofitamab</text>
<text x="376.77" y="144.90" font-size="8.8" textLength="5.22" lengthAdjust="spacingAndGlyphs" fill="#222" stroke="#222" stroke-width="0.25" font-weight="normal" font-style="normal">0</text>
<text x="371.52" y="123.82" font-size="8.8" textLength="10.43" lengthAdjust="spacingAndGlyphs" fill="#222" stroke="#222" stroke-width="0.25" font-weight="normal" font-style="normal">20</text>
<text x="371.52" y="102.74" font-size="8.8" textLength="10.43" lengthAdjust="spacingAndGlyphs" fill="#222" stroke="#222" stroke-width="0.25" font-weight="normal" font-style="normal">40</text>
<text x="371.52" y="81.66" font-size="8.8" textLength="10.43" lengthAdjust="spacingAndGlyphs" fill="#222" stroke="#222" stroke-width="0.25" font-weight="normal" font-style="normal">60</text>
<text x="371.52" y="60.58" font-size="8.8" textLength="10.43" lengthAdjust="spacingAndGlyphs" fill="#222" stroke="#222" stroke-width="0.25" font-weight="normal" font-style="normal">80</text>
<text x="366.31" y="39.50" font-size="8.8" textLength="15.65" lengthAdjust="spacingAndGlyphs" fill="#222" stroke="#222" stroke-width="0.25" font-weight="normal" font-style="normal">100</text>
<text x="387.40" y="159.50" font-size="8.8" textLength="5.22" lengthAdjust="spacingAndGlyphs" fill="#222" stroke="#222" stroke-width="0.25" font-weight="normal" font-style="normal">0</text>
<text x="407.77" y="159.50" font-size="8.8" textLength="5.22" lengthAdjust="spacingAndGlyphs" fill="#222" stroke="#222" stroke-width="0.25" font-weight="normal" font-style="normal">6</text>
<text x="425.48" y="159.50" font-size="8.8" textLength="10.43" lengthAdjust="spacingAndGlyphs" fill="#222" stroke="#222" stroke-width="0.25" font-weight="normal" font-style="normal">12</text>
<text x="445.83" y="159.50" font-size="8.8" textLength="10.43" lengthAdjust="spacingAndGlyphs" fill="#222" stroke="#222" stroke-width="0.25" font-weight="normal" font-style="normal">18</text>
<text x="466.28" y="159.50" font-size="8.8" textLength="10.43" lengthAdjust="spacingAndGlyphs" fill="#222" stroke="#222" stroke-width="0.25" font-weight="normal" font-style="normal">24</text>
<text x="486.77" y="159.50" font-size="8.8" textLength="10.43" lengthAdjust="spacingAndGlyphs" fill="#222" stroke="#222" stroke-width="0.25" font-weight="normal" font-style="normal">30</text>
<text transform="translate(356.00,100.80) rotate(-90)" x="-0.29" y="0" font-size="12.0" textLength="10.58" lengthAdjust="spacingAndGlyphs" fill="#222" stroke="#222" stroke-width="0.1" font-weight="bold" font-style="normal">OS</text>
<text transform="translate(356.00,86.50) rotate(-90)" x="-0.44" y="0" font-size="12.0" textLength="13.57" lengthAdjust="spacingAndGlyphs" fill="#222" stroke="#222" stroke-width="0.1" font-weight="bold" font-style="normal">(%)</text>
<text x="397.88" y="177.00" font-size="13.0" textLength="90.77" lengthAdjust="spacingAndGlyphs" fill="#222" stroke="#222" stroke-width="0.1" font-weight="bold" font-style="normal">Months after glofitamab</text>
<text x="118.17" y="357.80" font-size="8.8" textLength="5.22" lengthAdjust="spacingAndGlyphs" fill="#222" stroke="#222" stroke-width="0.25" font-weight="normal" font-style="normal">0</text>
<text x="112.92" y="336.76" font-size="8.8" textLength="10.43" lengthAdjust="spacingAndGlyphs" fill="#222" stroke="#222" stroke-width="0.25" font-weight="normal" font-style="normal">20</text>
<text x="112.92" y="315.72" font-size="8.8" textLength="10.43" lengthAdjust="spacingAndGlyphs" fill="#222" stroke="#222" stroke-width="0.25" font-weight="normal" font-style="normal">40</text>
<text x="112.92" y="294.68" font-size="8.8" textLength="10.43" lengthAdjust="spacingAndGlyphs" fill="#222" stroke="#222" stroke-width="0.25" font-weight="normal" font-style="normal">60</text>
<text x="112.92" y="273.64" font-size="8.8" textLength="10.43" lengthAdjust="spacingAndGlyphs" fill="#222" stroke="#222" stroke-width="0.25" font-weight="normal" font-style="normal">80</text>
<text x="107.71" y="252.60" font-size="8.8" textLength="15.65" lengthAdjust="spacingAndGlyphs" fill="#222" stroke="#222" stroke-width="0.25" font-weight="normal" font-style="normal">100</text>
<text x="128.80" y="372.90" font-size="8.8" textLength="5.22" lengthAdjust="spacingAndGlyphs" fill="#222" stroke="#222" stroke-width="0.25" font-weight="normal" font-style="normal">0</text>
<text x="149.17" y="372.90" font-size="8.8" textLength="5.22" lengthAdjust="spacingAndGlyphs" fill="#222" stroke="#222" stroke-width="0.25" font-weight="normal" font-style="normal">6</text>
<text x="166.88" y="372.90" font-size="8.8" textLength="10.43" lengthAdjust="spacingAndGlyphs" fill="#222" stroke="#222" stroke-width="0.25" font-weight="normal" font-style="normal">12</text>
<text x="187.23" y="372.90" font-size="8.8" textLength="10.43" lengthAdjust="spacingAndGlyphs" fill="#222" stroke="#222" stroke-width="0.25" font-weight="normal" font-style="normal">18</text>
<text x="207.68" y="372.90" font-size="8.8" textLength="10.43" lengthAdjust="spacingAndGlyphs" fill="#222" stroke="#222" stroke-width="0.25" font-weight="normal" font-style="normal">24</text>
<text x="228.17" y="372.90" font-size="8.8" textLength="10.43" lengthAdjust="spacingAndGlyphs" fill="#222" stroke="#222" stroke-width="0.25" font-weight="normal" font-style="normal">30</text>
<text transform="translate(96.60,316.00) rotate(-90)" x="-0.50" y="0" font-size="12.0" textLength="15.01" lengthAdjust="spacingAndGlyphs" fill="#222" stroke="#222" stroke-width="0.1" font-weight="bold" font-style="normal">PFS</text>
<text transform="translate(96.60,297.20) rotate(-90)" x="-0.45" y="0" font-size="12.0" textLength="14.00" lengthAdjust="spacingAndGlyphs" fill="#222" stroke="#222" stroke-width="0.1" font-weight="bold" font-style="normal">(%)</text>
<text x="139.28" y="389.90" font-size="13.0" textLength="90.77" lengthAdjust="spacingAndGlyphs" fill="#222" stroke="#222" stroke-width="0.1" font-weight="bold" font-style="normal">Months after glofitamab</text>
<text x="376.77" y="357.80" font-size="8.8" textLength="5.22" lengthAdjust="spacingAndGlyphs" fill="#222" stroke="#222" stroke-width="0.25" font-weight="normal" font-style="normal">0</text>
<text x="371.52" y="336.76" font-size="8.8" textLength="10.43" lengthAdjust="spacingAndGlyphs" fill="#222" stroke="#222" stroke-width="0.25" font-weight="normal" font-style="normal">20</text>
<text x="371.52" y="315.72" font-size="8.8" textLength="10.43" lengthAdjust="spacingAndGlyphs" fill="#222" stroke="#222" stroke-width="0.25" font-weight="normal" font-style="normal">40</text>
<text x="371.52" y="294.68" font-size="8.8" textLength="10.43" lengthAdjust="spacingAndGlyphs" fill="#222" stroke="#222" stroke-width="0.25" font-weight="normal" font-style="normal">60</text>
<text x="371.52" y="273.64" font-size="8.8" textLength="10.43" lengthAdjust="spacingAndGlyphs" fill="#222" stroke="#222" stroke-width="0.25" font-weight="normal" font-style="normal">80</text>
<text x="366.31" y="252.60" font-size="8.8" textLength="15.65" lengthAdjust="spacingAndGlyphs" fill="#222" stroke="#222" stroke-width="0.25" font-weight="normal" font-style="normal">100</text>
<text x="387.40" y="372.90" font-size="8.8" textLength="5.22" lengthAdjust="spacingAndGlyphs" fill="#222" stroke="#222" stroke-width="0.25" font-weight="normal" font-style="normal">0</text>
<text x="407.77" y="372.90" font-size="8.8" textLength="5.22" lengthAdjust="spacingAndGlyphs" fill="#222" stroke="#222" stroke-width="0.25" font-weight="normal" font-style="normal">6</text>
<text x="425.48" y="372.90" font-size="8.8" textLength="10.43" lengthAdjust="spacingAndGlyphs" fill="#222" stroke="#222" stroke-width="0.25" font-weight="normal" font-style="normal">12</text>
<text x="445.83" y="372.90" font-size="8.8" textLength="10.43" lengthAdjust="spacingAndGlyphs" fill="#222" stroke="#222" stroke-width="0.25" font-weight="normal" font-style="normal">18</text>
<text x="466.28" y="372.90" font-size="8.8" textLength="10.43" lengthAdjust="spacingAndGlyphs" fill="#222" stroke="#222" stroke-width="0.25" font-weight="normal" font-style="normal">24</text>
<text x="486.77" y="372.90" font-size="8.8" textLength="10.43" lengthAdjust="spacingAndGlyphs" fill="#222" stroke="#222" stroke-width="0.25" font-weight="normal" font-style="normal">30</text>
<text transform="translate(356.00,313.70) rotate(-90)" x="-0.29" y="0" font-size="12.0" textLength="10.58" lengthAdjust="spacingAndGlyphs" fill="#222" stroke="#222" stroke-width="0.1" font-weight="bold" font-style="normal">OS</text>
<text transform="translate(356.00,299.40) rotate(-90)" x="-0.44" y="0" font-size="12.0" textLength="13.57" lengthAdjust="spacingAndGlyphs" fill="#222" stroke="#222" stroke-width="0.1" font-weight="bold" font-style="normal">(%)</text>
<text x="397.88" y="389.90" font-size="13.0" textLength="90.77" lengthAdjust="spacingAndGlyphs" fill="#222" stroke="#222" stroke-width="0.1" font-weight="bold" font-style="normal">Months after glofitamab</text>
<text x="118.17" y="587.20" font-size="8.8" textLength="5.22" lengthAdjust="spacingAndGlyphs" fill="#222" stroke="#222" stroke-width="0.25" font-weight="normal" font-style="normal">0</text>
<text x="112.92" y="566.06" font-size="8.8" textLength="10.43" lengthAdjust="spacingAndGlyphs" fill="#222" stroke="#222" stroke-width="0.25" font-weight="normal" font-style="normal">20</text>
<text x="112.92" y="544.92" font-size="8.8" textLength="10.43" lengthAdjust="spacingAndGlyphs" fill="#222" stroke="#222" stroke-width="0.25" font-weight="normal" font-style="normal">40</text>
<text x="112.92" y="523.78" font-size="8.8" textLength="10.43" lengthAdjust="spacingAndGlyphs" fill="#222" stroke="#222" stroke-width="0.25" font-weight="normal" font-style="normal">60</text>
<text x="112.92" y="502.64" font-size="8.8" textLength="10.43" lengthAdjust="spacingAndGlyphs" fill="#222" stroke="#222" stroke-width="0.25" font-weight="normal" font-style="normal">80</text>
<text x="107.71" y="481.50" font-size="8.8" textLength="15.65" lengthAdjust="spacingAndGlyphs" fill="#222" stroke="#222" stroke-width="0.25" font-weight="normal" font-style="normal">100</text>
<text x="128.80" y="601.80" font-size="8.8" textLength="5.22" lengthAdjust="spacingAndGlyphs" fill="#222" stroke="#222" stroke-width="0.25" font-weight="normal" font-style="normal">0</text>
<text x="145.77" y="601.80" font-size="8.8" textLength="5.22" lengthAdjust="spacingAndGlyphs" fill="#222" stroke="#222" stroke-width="0.25" font-weight="normal" font-style="normal">6</text>
<text x="160.08" y="601.80" font-size="8.8" textLength="10.43" lengthAdjust="spacingAndGlyphs" fill="#222" stroke="#222" stroke-width="0.25" font-weight="normal" font-style="normal">12</text>
<text x="177.03" y="601.80" font-size="8.8" textLength="10.43" lengthAdjust="spacingAndGlyphs" fill="#222" stroke="#222" stroke-width="0.25" font-weight="normal" font-style="normal">18</text>
<text x="194.08" y="601.80" font-size="8.8" textLength="10.43" lengthAdjust="spacingAndGlyphs" fill="#222" stroke="#222" stroke-width="0.25" font-weight="normal" font-style="normal">24</text>
<text x="211.17" y="601.80" font-size="8.8" textLength="10.43" lengthAdjust="spacingAndGlyphs" fill="#222" stroke="#222" stroke-width="0.25" font-weight="normal" font-style="normal">30</text>
<text x="228.19" y="601.80" font-size="8.8" textLength="10.43" lengthAdjust="spacingAndGlyphs" fill="#222" stroke="#222" stroke-width="0.25" font-weight="normal" font-style="normal">36</text>
<text transform="translate(96.60,545.40) rotate(-90)" x="-0.50" y="0" font-size="12.0" textLength="15.01" lengthAdjust="spacingAndGlyphs" fill="#222" stroke="#222" stroke-width="0.1" font-weight="bold" font-style="normal">PFS</text>
<text transform="translate(96.60,526.60) rotate(-90)" x="-0.45" y="0" font-size="12.0" textLength="14.00" lengthAdjust="spacingAndGlyphs" fill="#222" stroke="#222" stroke-width="0.1" font-weight="bold" font-style="normal">(%)</text>
<text x="170.59" y="619.50" font-size="13.0" textLength="27.82" lengthAdjust="spacingAndGlyphs" fill="#222" stroke="#222" stroke-width="0.1" font-weight="bold" font-style="normal">Months</text>
<text x="376.77" y="587.20" font-size="8.8" textLength="5.22" lengthAdjust="spacingAndGlyphs" fill="#222" stroke="#222" stroke-width="0.25" font-weight="normal" font-style="normal">0</text>
<text x="371.52" y="566.06" font-size="8.8" textLength="10.43" lengthAdjust="spacingAndGlyphs" fill="#222" stroke="#222" stroke-width="0.25" font-weight="normal" font-style="normal">20</text>
<text x="371.52" y="544.92" font-size="8.8" textLength="10.43" lengthAdjust="spacingAndGlyphs" fill="#222" stroke="#222" stroke-width="0.25" font-weight="normal" font-style="normal">40</text>
<text x="371.52" y="523.78" font-size="8.8" textLength="10.43" lengthAdjust="spacingAndGlyphs" fill="#222" stroke="#222" stroke-width="0.25" font-weight="normal" font-style="normal">60</text>
<text x="371.52" y="502.64" font-size="8.8" textLength="10.43" lengthAdjust="spacingAndGlyphs" fill="#222" stroke="#222" stroke-width="0.25" font-weight="normal" font-style="normal">80</text>
<text x="366.31" y="481.50" font-size="8.8" textLength="15.65" lengthAdjust="spacingAndGlyphs" fill="#222" stroke="#222" stroke-width="0.25" font-weight="normal" font-style="normal">100</text>
<text x="387.40" y="601.80" font-size="8.8" textLength="5.22" lengthAdjust="spacingAndGlyphs" fill="#222" stroke="#222" stroke-width="0.25" font-weight="normal" font-style="normal">0</text>
<text x="404.37" y="601.80" font-size="8.8" textLength="5.22" lengthAdjust="spacingAndGlyphs" fill="#222" stroke="#222" stroke-width="0.25" font-weight="normal" font-style="normal">6</text>
<text x="418.68" y="601.80" font-size="8.8" textLength="10.43" lengthAdjust="spacingAndGlyphs" fill="#222" stroke="#222" stroke-width="0.25" font-weight="normal" font-style="normal">12</text>
<text x="435.63" y="601.80" font-size="8.8" textLength="10.43" lengthAdjust="spacingAndGlyphs" fill="#222" stroke="#222" stroke-width="0.25" font-weight="normal" font-style="normal">18</text>
<text x="452.68" y="601.80" font-size="8.8" textLength="10.43" lengthAdjust="spacingAndGlyphs" fill="#222" stroke="#222" stroke-width="0.25" font-weight="normal" font-style="normal">24</text>
<text x="469.77" y="601.80" font-size="8.8" textLength="10.43" lengthAdjust="spacingAndGlyphs" fill="#222" stroke="#222" stroke-width="0.25" font-weight="normal" font-style="normal">30</text>
<text x="486.79" y="601.80" font-size="8.8" textLength="10.43" lengthAdjust="spacingAndGlyphs" fill="#222" stroke="#222" stroke-width="0.25" font-weight="normal" font-style="normal">36</text>
<text transform="translate(356.00,543.10) rotate(-90)" x="-0.29" y="0" font-size="12.0" textLength="10.58" lengthAdjust="spacingAndGlyphs" fill="#222" stroke="#222" stroke-width="0.1" font-weight="bold" font-style="normal">OS</text>
<text transform="translate(356.00,528.80) rotate(-90)" x="-0.44" y="0" font-size="12.0" textLength="13.57" lengthAdjust="spacingAndGlyphs" fill="#222" stroke="#222" stroke-width="0.1" font-weight="bold" font-style="normal">(%)</text>
<text x="429.19" y="619.50" font-size="13.0" textLength="27.82" lengthAdjust="spacingAndGlyphs" fill="#222" stroke="#222" stroke-width="0.1" font-weight="bold" font-style="normal">Months</text>
<text x="118.17" y="816.40" font-size="8.8" textLength="5.22" lengthAdjust="spacingAndGlyphs" fill="#222" stroke="#222" stroke-width="0.25" font-weight="normal" font-style="normal">0</text>
<text x="112.92" y="795.26" font-size="8.8" textLength="10.43" lengthAdjust="spacingAndGlyphs" fill="#222" stroke="#222" stroke-width="0.25" font-weight="normal" font-style="normal">20</text>
<text x="112.92" y="774.12" font-size="8.8" textLength="10.43" lengthAdjust="spacingAndGlyphs" fill="#222" stroke="#222" stroke-width="0.25" font-weight="normal" font-style="normal">40</text>
<text x="112.92" y="752.98" font-size="8.8" textLength="10.43" lengthAdjust="spacingAndGlyphs" fill="#222" stroke="#222" stroke-width="0.25" font-weight="normal" font-style="normal">60</text>
<text x="112.92" y="731.84" font-size="8.8" textLength="10.43" lengthAdjust="spacingAndGlyphs" fill="#222" stroke="#222" stroke-width="0.25" font-weight="normal" font-style="normal">80</text>
<text x="107.71" y="710.70" font-size="8.8" textLength="15.65" lengthAdjust="spacingAndGlyphs" fill="#222" stroke="#222" stroke-width="0.25" font-weight="normal" font-style="normal">100</text>
<text x="128.80" y="831.00" font-size="8.8" textLength="5.22" lengthAdjust="spacingAndGlyphs" fill="#222" stroke="#222" stroke-width="0.25" font-weight="normal" font-style="normal">0</text>
<text x="145.77" y="831.00" font-size="8.8" textLength="5.22" lengthAdjust="spacingAndGlyphs" fill="#222" stroke="#222" stroke-width="0.25" font-weight="normal" font-style="normal">6</text>
<text x="160.08" y="831.00" font-size="8.8" textLength="10.43" lengthAdjust="spacingAndGlyphs" fill="#222" stroke="#222" stroke-width="0.25" font-weight="normal" font-style="normal">12</text>
<text x="177.03" y="831.00" font-size="8.8" textLength="10.43" lengthAdjust="spacingAndGlyphs" fill="#222" stroke="#222" stroke-width="0.25" font-weight="normal" font-style="normal">18</text>
<text x="194.08" y="831.00" font-size="8.8" textLength="10.43" lengthAdjust="spacingAndGlyphs" fill="#222" stroke="#222" stroke-width="0.25" font-weight="normal" font-style="normal">24</text>
<text x="211.17" y="831.00" font-size="8.8" textLength="10.43" lengthAdjust="spacingAndGlyphs" fill="#222" stroke="#222" stroke-width="0.25" font-weight="normal" font-style="normal">30</text>
<text x="228.19" y="831.00" font-size="8.8" textLength="10.43" lengthAdjust="spacingAndGlyphs" fill="#222" stroke="#222" stroke-width="0.25" font-weight="normal" font-style="normal">36</text>
<text transform="translate(96.60,774.60) rotate(-90)" x="-0.50" y="0" font-size="12.0" textLength="15.01" lengthAdjust="spacingAndGlyphs" fill="#222" stroke="#222" stroke-width="0.1" font-weight="bold" font-style="normal">PFS</text>
<text transform="translate(96.60,755.80) rotate(-90)" x="-0.45" y="0" font-size="12.0" textLength="14.00" lengthAdjust="spacingAndGlyphs" fill="#222" stroke="#222" stroke-width="0.1" font-weight="bold" font-style="normal">(%)</text>
<text x="170.59" y="848.70" font-size="13.0" textLength="27.82" lengthAdjust="spacingAndGlyphs" fill="#222" stroke="#222" stroke-width="0.1" font-weight="bold" font-style="normal">Months</text>
<text x="376.77" y="816.40" font-size="8.8" textLength="5.22" lengthAdjust="spacingAndGlyphs" fill="#222" stroke="#222" stroke-width="0.25" font-weight="normal" font-style="normal">0</text>
<text x="371.52" y="795.26" font-size="8.8" textLength="10.43" lengthAdjust="spacingAndGlyphs" fill="#222" stroke="#222" stroke-width="0.25" font-weight="normal" font-style="normal">20</text>
<text x="371.52" y="774.12" font-size="8.8" textLength="10.43" lengthAdjust="spacingAndGlyphs" fill="#222" stroke="#222" stroke-width="0.25" font-weight="normal" font-style="normal">40</text>
<text x="371.52" y="752.98" font-size="8.8" textLength="10.43" lengthAdjust="spacingAndGlyphs" fill="#222" stroke="#222" stroke-width="0.25" font-weight="normal" font-style="normal">60</text>
<text x="371.52" y="731.84" font-size="8.8" textLength="10.43" lengthAdjust="spacingAndGlyphs" fill="#222" stroke="#222" stroke-width="0.25" font-weight="normal" font-style="normal">80</text>
<text x="366.31" y="710.70" font-size="8.8" textLength="15.65" lengthAdjust="spacingAndGlyphs" fill="#222" stroke="#222" stroke-width="0.25" font-weight="normal" font-style="normal">100</text>
<text x="387.40" y="831.00" font-size="8.8" textLength="5.22" lengthAdjust="spacingAndGlyphs" fill="#222" stroke="#222" stroke-width="0.25" font-weight="normal" font-style="normal">0</text>
<text x="404.37" y="831.00" font-size="8.8" textLength="5.22" lengthAdjust="spacingAndGlyphs" fill="#222" stroke="#222" stroke-width="0.25" font-weight="normal" font-style="normal">6</text>
<text x="418.68" y="831.00" font-size="8.8" textLength="10.43" lengthAdjust="spacingAndGlyphs" fill="#222" stroke="#222" stroke-width="0.25" font-weight="normal" font-style="normal">12</text>
<text x="435.63" y="831.00" font-size="8.8" textLength="10.43" lengthAdjust="spacingAndGlyphs" fill="#222" stroke="#222" stroke-width="0.25" font-weight="normal" font-style="normal">18</text>
<text x="452.68" y="831.00" font-size="8.8" textLength="10.43" lengthAdjust="spacingAndGlyphs" fill="#222" stroke="#222" stroke-width="0.25" font-weight="normal" font-style="normal">24</text>
<text x="469.77" y="831.00" font-size="8.8" textLength="10.43" lengthAdjust="spacingAndGlyphs" fill="#222" stroke="#222" stroke-width="0.25" font-weight="normal" font-style="normal">30</text>
<text x="486.79" y="831.00" font-size="8.8" textLength="10.43" lengthAdjust="spacingAndGlyphs" fill="#222" stroke="#222" stroke-width="0.25" font-weight="normal" font-style="normal">36</text>
<text transform="translate(356.00,772.30) rotate(-90)" x="-0.29" y="0" font-size="12.0" textLength="10.58" lengthAdjust="spacingAndGlyphs" fill="#222" stroke="#222" stroke-width="0.1" font-weight="bold" font-style="normal">OS</text>
<text transform="translate(356.00,758.00) rotate(-90)" x="-0.44" y="0" font-size="12.0" textLength="13.57" lengthAdjust="spacingAndGlyphs" fill="#222" stroke="#222" stroke-width="0.1" font-weight="bold" font-style="normal">(%)</text>
<text x="429.19" y="848.70" font-size="13.0" textLength="27.82" lengthAdjust="spacingAndGlyphs" fill="#222" stroke="#222" stroke-width="0.1" font-weight="bold" font-style="normal">Months</text>
<text x="195.03" y="254.50" font-size="9.0" textLength="6.04" lengthAdjust="spacingAndGlyphs" fill="#222" stroke="#222" stroke-width="0.1" font-weight="normal" font-style="italic">P</text>
<text x="211.74" y="254.50" font-size="9.0" textLength="18.60" lengthAdjust="spacingAndGlyphs" fill="#222" stroke="#222" stroke-width="0.1" font-weight="normal" font-style="normal">.006</text>
<text x="453.83" y="254.50" font-size="9.0" textLength="6.04" lengthAdjust="spacingAndGlyphs" fill="#222" stroke="#222" stroke-width="0.1" font-weight="normal" font-style="italic">P</text>
<text x="469.95" y="254.50" font-size="9.0" textLength="18.34" lengthAdjust="spacingAndGlyphs" fill="#222" stroke="#222" stroke-width="0.1" font-weight="normal" font-style="normal">.004</text>
<text x="188.83" y="488.80" font-size="9.0" textLength="6.04" lengthAdjust="spacingAndGlyphs" fill="#222" stroke="#222" stroke-width="0.1" font-weight="normal" font-style="italic">P</text>
<text x="194.34" y="488.80" font-size="9.0" textLength="22.42" lengthAdjust="spacingAndGlyphs" fill="#222" stroke="#222" stroke-width="0.1" font-weight="normal" font-style="normal">.value</text>
<text x="228.08" y="488.80" font-size="9.0" textLength="17.16" lengthAdjust="spacingAndGlyphs" fill="#222" stroke="#222" stroke-width="0.1" font-weight="normal" font-style="normal">.011</text>
<text x="440.53" y="483.20" font-size="9.0" textLength="6.04" lengthAdjust="spacingAndGlyphs" fill="#222" stroke="#222" stroke-width="0.1" font-weight="normal" font-style="italic">P</text>
<text x="446.04" y="483.20" font-size="9.0" textLength="22.63" lengthAdjust="spacingAndGlyphs" fill="#222" stroke="#222" stroke-width="0.1" font-weight="normal" font-style="normal">.value</text>
<text x="478.91" y="483.20" font-size="9.0" textLength="24.81" lengthAdjust="spacingAndGlyphs" fill="#222" stroke="#222" stroke-width="0.1" font-weight="normal" font-style="normal">.0005</text>
<text x="183.53" y="713.40" font-size="9.0" textLength="6.04" lengthAdjust="spacingAndGlyphs" fill="#222" stroke="#222" stroke-width="0.1" font-weight="normal" font-style="italic">P</text>
<text x="189.43" y="713.40" font-size="9.0" textLength="22.43" lengthAdjust="spacingAndGlyphs" fill="#222" stroke="#222" stroke-width="0.1" font-weight="normal" font-style="normal">-value</text>
<text x="222.90" y="713.40" font-size="9.0" textLength="19.36" lengthAdjust="spacingAndGlyphs" fill="#222" stroke="#222" stroke-width="0.1" font-weight="normal" font-style="normal">.016</text>
<text x="440.43" y="712.40" font-size="9.0" textLength="6.04" lengthAdjust="spacingAndGlyphs" fill="#222" stroke="#222" stroke-width="0.1" font-weight="normal" font-style="italic">P</text>
<text x="446.33" y="712.40" font-size="9.0" textLength="22.64" lengthAdjust="spacingAndGlyphs" fill="#222" stroke="#222" stroke-width="0.1" font-weight="normal" font-style="normal">-value</text>
<text x="480.34" y="712.40" font-size="9.0" textLength="18.55" lengthAdjust="spacingAndGlyphs" fill="#222" stroke="#222" stroke-width="0.1" font-weight="normal" font-style="normal">.055</text>
<text x="177.85" y="320.70" font-size="10" textLength="63.82" lengthAdjust="spacingAndGlyphs" fill="#a52246" stroke="#a52246" stroke-width="0.1" font-weight="normal" font-style="normal">CAR-T-exposed</text>
<text x="159.86" y="341.50" font-size="10" textLength="50.43" lengthAdjust="spacingAndGlyphs" fill="#30517a" stroke="#30517a" stroke-width="0.1" font-weight="normal" font-style="normal">CAR-T-naive</text>
<text x="427.35" y="303.80" font-size="10" textLength="63.82" lengthAdjust="spacingAndGlyphs" fill="#a52246" stroke="#a52246" stroke-width="0.1" font-weight="normal" font-style="normal">CAR-T-exposed</text>
<text x="425.56" y="335.90" font-size="10" textLength="50.53" lengthAdjust="spacingAndGlyphs" fill="#30517a" stroke="#30517a" stroke-width="0.1" font-weight="normal" font-style="normal">CAR-T-naive</text>
<text x="151.52" y="493.60" font-size="10" textLength="13.96" lengthAdjust="spacingAndGlyphs" fill="#a52246" stroke="#a52246" stroke-width="0.1" font-weight="normal" font-style="normal">CR</text>
<text x="139.41" y="529.30" font-size="10" textLength="28.43" lengthAdjust="spacingAndGlyphs" fill="#30517a" stroke="#30517a" stroke-width="0.1" font-weight="normal" font-style="normal">nonCR</text>
<text x="480.12" y="499.10" font-size="10" textLength="13.96" lengthAdjust="spacingAndGlyphs" fill="#a52246" stroke="#a52246" stroke-width="0.1" font-weight="normal" font-style="normal">CR</text>
<text x="399.20" y="545.60" font-size="10" textLength="28.53" lengthAdjust="spacingAndGlyphs" fill="#30517a" stroke="#30517a" stroke-width="0.1" font-weight="normal" font-style="normal">nonCR</text>
<text x="154.07" y="768.70" font-size="9.6" textLength="99.83" lengthAdjust="spacingAndGlyphs" fill="#a52246" stroke="#a52246" stroke-width="0.1" font-weight="normal" font-style="normal">Benda &gt; 6 mo/No Benda</text>
<text x="179.17" y="799.00" font-size="9.6" textLength="57.19" lengthAdjust="spacingAndGlyphs" fill="#30517a" stroke="#30517a" stroke-width="0.1" font-weight="normal" font-style="normal">Benda &lt; 6 mo</text>
<text x="404.78" y="739.40" font-size="9.6" textLength="104.53" lengthAdjust="spacingAndGlyphs" fill="#a52246" stroke="#a52246" stroke-width="0.1" font-weight="normal" font-style="normal">Benda &gt; 6 mo / No Benda</text>
<text x="447.68" y="800.20" font-size="9.6" textLength="56.07" lengthAdjust="spacingAndGlyphs" fill="#30517a" stroke="#30517a" stroke-width="0.1" font-weight="normal" font-style="normal">Benda &lt; 6 mo</text>
<text x="98.29" y="193.10" font-size="9.0" textLength="43.41" lengthAdjust="spacingAndGlyphs" fill="#222" stroke="#222" stroke-width="0.1" font-weight="normal" font-style="normal">Pts. as risk</text>
<text x="126.18" y="209.20" font-size="8.6" textLength="10.33" lengthAdjust="spacingAndGlyphs" fill="#222" stroke="#222" stroke-width="0.2" font-weight="normal" font-style="normal">70</text>
<text x="146.48" y="209.20" font-size="8.6" textLength="10.33" lengthAdjust="spacingAndGlyphs" fill="#222" stroke="#222" stroke-width="0.2" font-weight="normal" font-style="normal">16</text>
<text x="169.62" y="209.20" font-size="8.6" textLength="5.17" lengthAdjust="spacingAndGlyphs" fill="#222" stroke="#222" stroke-width="0.2" font-weight="normal" font-style="normal">7</text>
<text x="190.02" y="209.20" font-size="8.6" textLength="5.17" lengthAdjust="spacingAndGlyphs" fill="#222" stroke="#222" stroke-width="0.2" font-weight="normal" font-style="normal">5</text>
<text x="210.45" y="209.20" font-size="8.6" textLength="5.17" lengthAdjust="spacingAndGlyphs" fill="#222" stroke="#222" stroke-width="0.2" font-weight="normal" font-style="normal">3</text>
<text x="230.82" y="209.20" font-size="8.6" textLength="5.17" lengthAdjust="spacingAndGlyphs" fill="#222" stroke="#222" stroke-width="0.2" font-weight="normal" font-style="normal">2</text>
<text x="356.89" y="193.10" font-size="9.0" textLength="43.41" lengthAdjust="spacingAndGlyphs" fill="#222" stroke="#222" stroke-width="0.1" font-weight="normal" font-style="normal">Pts. as risk</text>
<text x="384.78" y="209.20" font-size="8.6" textLength="10.33" lengthAdjust="spacingAndGlyphs" fill="#222" stroke="#222" stroke-width="0.2" font-weight="normal" font-style="normal">70</text>
<text x="405.20" y="209.20" font-size="8.6" textLength="10.33" lengthAdjust="spacingAndGlyphs" fill="#222" stroke="#222" stroke-width="0.2" font-weight="normal" font-style="normal">28</text>
<text x="428.20" y="209.20" font-size="8.6" textLength="5.17" lengthAdjust="spacingAndGlyphs" fill="#222" stroke="#222" stroke-width="0.2" font-weight="normal" font-style="normal">8</text>
<text x="448.60" y="209.20" font-size="8.6" textLength="5.17" lengthAdjust="spacingAndGlyphs" fill="#222" stroke="#222" stroke-width="0.2" font-weight="normal" font-style="normal">6</text>
<text x="469.05" y="209.20" font-size="8.6" textLength="5.17" lengthAdjust="spacingAndGlyphs" fill="#222" stroke="#222" stroke-width="0.2" font-weight="normal" font-style="normal">3</text>
<text x="489.42" y="209.20" font-size="8.6" textLength="5.17" lengthAdjust="spacingAndGlyphs" fill="#222" stroke="#222" stroke-width="0.2" font-weight="normal" font-style="normal">2</text>
<text x="62.99" y="407.10" font-size="9.0" textLength="43.41" lengthAdjust="spacingAndGlyphs" fill="#222" stroke="#222" stroke-width="0.1" font-weight="normal" font-style="normal">Pts. as risk</text>
<text x="126.18" y="422.80" font-size="8.6" textLength="10.33" lengthAdjust="spacingAndGlyphs" fill="#222" stroke="#222" stroke-width="0.2" font-weight="normal" font-style="normal">20</text>
<text x="149.22" y="422.80" font-size="8.6" textLength="5.17" lengthAdjust="spacingAndGlyphs" fill="#222" stroke="#222" stroke-width="0.2" font-weight="normal" font-style="normal">2</text>
<text x="169.51" y="422.80" font-size="8.6" textLength="5.17" lengthAdjust="spacingAndGlyphs" fill="#222" stroke="#222" stroke-width="0.2" font-weight="normal" font-style="normal">1</text>
<text x="190.02" y="422.80" font-size="8.6" textLength="5.17" lengthAdjust="spacingAndGlyphs" fill="#222" stroke="#222" stroke-width="0.2" font-weight="normal" font-style="normal">0</text>
<text x="210.42" y="422.80" font-size="8.6" textLength="5.17" lengthAdjust="spacingAndGlyphs" fill="#222" stroke="#222" stroke-width="0.2" font-weight="normal" font-style="normal">0</text>
<text x="230.82" y="422.80" font-size="8.6" textLength="5.17" lengthAdjust="spacingAndGlyphs" fill="#222" stroke="#222" stroke-width="0.2" font-weight="normal" font-style="normal">0</text>
<text x="77.05" y="422.80" font-size="9.2" textLength="43.98" lengthAdjust="spacingAndGlyphs" fill="#222" stroke="#222" stroke-width="0.1" font-weight="normal" font-style="normal">CART-exp.</text>
<text x="126.22" y="438.20" font-size="8.6" textLength="10.33" lengthAdjust="spacingAndGlyphs" fill="#222" stroke="#222" stroke-width="0.2" font-weight="normal" font-style="normal">50</text>
<text x="146.41" y="438.20" font-size="8.6" textLength="10.33" lengthAdjust="spacingAndGlyphs" fill="#222" stroke="#222" stroke-width="0.2" font-weight="normal" font-style="normal">14</text>
<text x="169.60" y="438.20" font-size="8.6" textLength="5.17" lengthAdjust="spacingAndGlyphs" fill="#222" stroke="#222" stroke-width="0.2" font-weight="normal" font-style="normal">6</text>
<text x="190.02" y="438.20" font-size="8.6" textLength="5.17" lengthAdjust="spacingAndGlyphs" fill="#222" stroke="#222" stroke-width="0.2" font-weight="normal" font-style="normal">5</text>
<text x="210.45" y="438.20" font-size="8.6" textLength="5.17" lengthAdjust="spacingAndGlyphs" fill="#222" stroke="#222" stroke-width="0.2" font-weight="normal" font-style="normal">3</text>
<text x="230.82" y="438.20" font-size="8.6" textLength="5.17" lengthAdjust="spacingAndGlyphs" fill="#222" stroke="#222" stroke-width="0.2" font-weight="normal" font-style="normal">2</text>
<text x="77.05" y="438.20" font-size="9.2" textLength="40.94" lengthAdjust="spacingAndGlyphs" fill="#222" stroke="#222" stroke-width="0.1" font-weight="normal" font-style="normal">CART-nai.</text>
<text x="321.79" y="407.10" font-size="9.0" textLength="43.41" lengthAdjust="spacingAndGlyphs" fill="#222" stroke="#222" stroke-width="0.1" font-weight="normal" font-style="normal">Pts. as risk</text>
<text x="384.78" y="422.80" font-size="8.6" textLength="10.33" lengthAdjust="spacingAndGlyphs" fill="#222" stroke="#222" stroke-width="0.2" font-weight="normal" font-style="normal">20</text>
<text x="407.80" y="422.80" font-size="8.6" textLength="5.17" lengthAdjust="spacingAndGlyphs" fill="#222" stroke="#222" stroke-width="0.2" font-weight="normal" font-style="normal">6</text>
<text x="428.11" y="422.80" font-size="8.6" textLength="5.17" lengthAdjust="spacingAndGlyphs" fill="#222" stroke="#222" stroke-width="0.2" font-weight="normal" font-style="normal">1</text>
<text x="448.62" y="422.80" font-size="8.6" textLength="5.17" lengthAdjust="spacingAndGlyphs" fill="#222" stroke="#222" stroke-width="0.2" font-weight="normal" font-style="normal">0</text>
<text x="469.02" y="422.80" font-size="8.6" textLength="5.17" lengthAdjust="spacingAndGlyphs" fill="#222" stroke="#222" stroke-width="0.2" font-weight="normal" font-style="normal">0</text>
<text x="489.42" y="422.80" font-size="8.6" textLength="5.17" lengthAdjust="spacingAndGlyphs" fill="#222" stroke="#222" stroke-width="0.2" font-weight="normal" font-style="normal">0</text>
<text x="335.45" y="422.80" font-size="9.2" textLength="43.98" lengthAdjust="spacingAndGlyphs" fill="#222" stroke="#222" stroke-width="0.1" font-weight="normal" font-style="normal">CART-exp.</text>
<text x="384.82" y="438.20" font-size="8.6" textLength="10.33" lengthAdjust="spacingAndGlyphs" fill="#222" stroke="#222" stroke-width="0.2" font-weight="normal" font-style="normal">50</text>
<text x="405.25" y="438.20" font-size="8.6" textLength="10.33" lengthAdjust="spacingAndGlyphs" fill="#222" stroke="#222" stroke-width="0.2" font-weight="normal" font-style="normal">22</text>
<text x="428.22" y="438.20" font-size="8.6" textLength="5.17" lengthAdjust="spacingAndGlyphs" fill="#222" stroke="#222" stroke-width="0.2" font-weight="normal" font-style="normal">7</text>
<text x="448.60" y="438.20" font-size="8.6" textLength="5.17" lengthAdjust="spacingAndGlyphs" fill="#222" stroke="#222" stroke-width="0.2" font-weight="normal" font-style="normal">6</text>
<text x="469.05" y="438.20" font-size="8.6" textLength="5.17" lengthAdjust="spacingAndGlyphs" fill="#222" stroke="#222" stroke-width="0.2" font-weight="normal" font-style="normal">3</text>
<text x="489.42" y="438.20" font-size="8.6" textLength="5.17" lengthAdjust="spacingAndGlyphs" fill="#222" stroke="#222" stroke-width="0.2" font-weight="normal" font-style="normal">2</text>
<text x="335.45" y="438.20" font-size="9.2" textLength="40.94" lengthAdjust="spacingAndGlyphs" fill="#222" stroke="#222" stroke-width="0.1" font-weight="normal" font-style="normal">CART-nai.</text>
<text x="75.49" y="635.80" font-size="9.0" textLength="43.41" lengthAdjust="spacingAndGlyphs" fill="#222" stroke="#222" stroke-width="0.1" font-weight="normal" font-style="normal">Pts. as risk</text>
<text x="126.08" y="651.80" font-size="8.6" textLength="10.33" lengthAdjust="spacingAndGlyphs" fill="#222" stroke="#222" stroke-width="0.2" font-weight="normal" font-style="normal">13</text>
<text x="145.82" y="651.80" font-size="8.6" textLength="5.17" lengthAdjust="spacingAndGlyphs" fill="#222" stroke="#222" stroke-width="0.2" font-weight="normal" font-style="normal">7</text>
<text x="162.82" y="651.80" font-size="8.6" textLength="5.17" lengthAdjust="spacingAndGlyphs" fill="#222" stroke="#222" stroke-width="0.2" font-weight="normal" font-style="normal">5</text>
<text x="179.85" y="651.80" font-size="8.6" textLength="5.17" lengthAdjust="spacingAndGlyphs" fill="#222" stroke="#222" stroke-width="0.2" font-weight="normal" font-style="normal">3</text>
<text x="196.82" y="651.80" font-size="8.6" textLength="5.17" lengthAdjust="spacingAndGlyphs" fill="#222" stroke="#222" stroke-width="0.2" font-weight="normal" font-style="normal">2</text>
<text x="213.82" y="651.80" font-size="8.6" textLength="5.17" lengthAdjust="spacingAndGlyphs" fill="#222" stroke="#222" stroke-width="0.2" font-weight="normal" font-style="normal">0</text>
<text x="230.82" y="651.80" font-size="8.6" textLength="5.17" lengthAdjust="spacingAndGlyphs" fill="#222" stroke="#222" stroke-width="0.2" font-weight="normal" font-style="normal">0</text>
<text x="89.53" y="651.80" font-size="9.2" textLength="13.53" lengthAdjust="spacingAndGlyphs" fill="#a52246" stroke="#a52246" stroke-width="0.1" font-weight="normal" font-style="normal">CR</text>
<text x="128.82" y="667.20" font-size="8.6" textLength="5.17" lengthAdjust="spacingAndGlyphs" fill="#222" stroke="#222" stroke-width="0.2" font-weight="normal" font-style="normal">2</text>
<text x="145.82" y="667.20" font-size="8.6" textLength="5.17" lengthAdjust="spacingAndGlyphs" fill="#222" stroke="#222" stroke-width="0.2" font-weight="normal" font-style="normal">0</text>
<text x="162.82" y="667.20" font-size="8.6" textLength="5.17" lengthAdjust="spacingAndGlyphs" fill="#222" stroke="#222" stroke-width="0.2" font-weight="normal" font-style="normal">0</text>
<text x="179.82" y="667.20" font-size="8.6" textLength="5.17" lengthAdjust="spacingAndGlyphs" fill="#222" stroke="#222" stroke-width="0.2" font-weight="normal" font-style="normal">0</text>
<text x="196.82" y="667.20" font-size="8.6" textLength="5.17" lengthAdjust="spacingAndGlyphs" fill="#222" stroke="#222" stroke-width="0.2" font-weight="normal" font-style="normal">0</text>
<text x="213.82" y="667.20" font-size="8.6" textLength="5.17" lengthAdjust="spacingAndGlyphs" fill="#222" stroke="#222" stroke-width="0.2" font-weight="normal" font-style="normal">0</text>
<text x="230.82" y="667.20" font-size="8.6" textLength="5.17" lengthAdjust="spacingAndGlyphs" fill="#222" stroke="#222" stroke-width="0.2" font-weight="normal" font-style="normal">0</text>
<text x="89.42" y="667.20" font-size="9.2" textLength="28.02" lengthAdjust="spacingAndGlyphs" fill="#30517a" stroke="#30517a" stroke-width="0.1" font-weight="normal" font-style="normal">nonCR</text>
<text x="334.49" y="635.80" font-size="9.0" textLength="43.41" lengthAdjust="spacingAndGlyphs" fill="#222" stroke="#222" stroke-width="0.1" font-weight="normal" font-style="normal">Pts. as risk</text>
<text x="384.68" y="651.80" font-size="8.6" textLength="10.33" lengthAdjust="spacingAndGlyphs" fill="#222" stroke="#222" stroke-width="0.2" font-weight="normal" font-style="normal">13</text>
<text x="404.42" y="651.80" font-size="8.6" textLength="5.17" lengthAdjust="spacingAndGlyphs" fill="#222" stroke="#222" stroke-width="0.2" font-weight="normal" font-style="normal">7</text>
<text x="421.42" y="651.80" font-size="8.6" textLength="5.17" lengthAdjust="spacingAndGlyphs" fill="#222" stroke="#222" stroke-width="0.2" font-weight="normal" font-style="normal">5</text>
<text x="438.45" y="651.80" font-size="8.6" textLength="5.17" lengthAdjust="spacingAndGlyphs" fill="#222" stroke="#222" stroke-width="0.2" font-weight="normal" font-style="normal">3</text>
<text x="455.42" y="651.80" font-size="8.6" textLength="5.17" lengthAdjust="spacingAndGlyphs" fill="#222" stroke="#222" stroke-width="0.2" font-weight="normal" font-style="normal">2</text>
<text x="472.42" y="651.80" font-size="8.6" textLength="5.17" lengthAdjust="spacingAndGlyphs" fill="#222" stroke="#222" stroke-width="0.2" font-weight="normal" font-style="normal">0</text>
<text x="489.42" y="651.80" font-size="8.6" textLength="5.17" lengthAdjust="spacingAndGlyphs" fill="#222" stroke="#222" stroke-width="0.2" font-weight="normal" font-style="normal">0</text>
<text x="348.53" y="651.80" font-size="9.2" textLength="13.53" lengthAdjust="spacingAndGlyphs" fill="#a52246" stroke="#a52246" stroke-width="0.1" font-weight="normal" font-style="normal">CR</text>
<text x="387.42" y="667.20" font-size="8.6" textLength="5.17" lengthAdjust="spacingAndGlyphs" fill="#222" stroke="#222" stroke-width="0.2" font-weight="normal" font-style="normal">2</text>
<text x="404.42" y="667.20" font-size="8.6" textLength="5.17" lengthAdjust="spacingAndGlyphs" fill="#222" stroke="#222" stroke-width="0.2" font-weight="normal" font-style="normal">0</text>
<text x="421.42" y="667.20" font-size="8.6" textLength="5.17" lengthAdjust="spacingAndGlyphs" fill="#222" stroke="#222" stroke-width="0.2" font-weight="normal" font-style="normal">0</text>
<text x="438.42" y="667.20" font-size="8.6" textLength="5.17" lengthAdjust="spacingAndGlyphs" fill="#222" stroke="#222" stroke-width="0.2" font-weight="normal" font-style="normal">0</text>
<text x="455.42" y="667.20" font-size="8.6" textLength="5.17" lengthAdjust="spacingAndGlyphs" fill="#222" stroke="#222" stroke-width="0.2" font-weight="normal" font-style="normal">0</text>
<text x="472.42" y="667.20" font-size="8.6" textLength="5.17" lengthAdjust="spacingAndGlyphs" fill="#222" stroke="#222" stroke-width="0.2" font-weight="normal" font-style="normal">0</text>
<text x="489.42" y="667.20" font-size="8.6" textLength="5.17" lengthAdjust="spacingAndGlyphs" fill="#222" stroke="#222" stroke-width="0.2" font-weight="normal" font-style="normal">0</text>
<text x="348.42" y="667.20" font-size="9.2" textLength="28.02" lengthAdjust="spacingAndGlyphs" fill="#30517a" stroke="#30517a" stroke-width="0.1" font-weight="normal" font-style="normal">nonCR</text>
<text x="75.19" y="865.00" font-size="9.0" textLength="43.41" lengthAdjust="spacingAndGlyphs" fill="#222" stroke="#222" stroke-width="0.1" font-weight="normal" font-style="normal">Pts. as risk</text>
<text x="126.31" y="880.60" font-size="8.6" textLength="10.33" lengthAdjust="spacingAndGlyphs" fill="#222" stroke="#222" stroke-width="0.2" font-weight="normal" font-style="normal">46</text>
<text x="143.13" y="880.60" font-size="8.6" textLength="10.33" lengthAdjust="spacingAndGlyphs" fill="#222" stroke="#222" stroke-width="0.2" font-weight="normal" font-style="normal">12</text>
<text x="162.80" y="880.60" font-size="8.6" textLength="5.17" lengthAdjust="spacingAndGlyphs" fill="#222" stroke="#222" stroke-width="0.2" font-weight="normal" font-style="normal">6</text>
<text x="179.85" y="880.60" font-size="8.6" textLength="5.17" lengthAdjust="spacingAndGlyphs" fill="#222" stroke="#222" stroke-width="0.2" font-weight="normal" font-style="normal">4</text>
<text x="196.85" y="880.60" font-size="8.6" textLength="5.17" lengthAdjust="spacingAndGlyphs" fill="#222" stroke="#222" stroke-width="0.2" font-weight="normal" font-style="normal">3</text>
<text x="213.82" y="880.60" font-size="8.6" textLength="5.17" lengthAdjust="spacingAndGlyphs" fill="#222" stroke="#222" stroke-width="0.2" font-weight="normal" font-style="normal">2</text>
<text x="230.82" y="880.60" font-size="8.6" textLength="5.17" lengthAdjust="spacingAndGlyphs" fill="#222" stroke="#222" stroke-width="0.2" font-weight="normal" font-style="normal">0</text>
<text x="23.02" y="880.60" font-size="9.2" textLength="96.99" lengthAdjust="spacingAndGlyphs" fill="#a52246" stroke="#a52246" stroke-width="0.1" font-weight="normal" font-style="normal">Benda &gt; 6mo/No Benda</text>
<text x="126.13" y="896.80" font-size="8.6" textLength="10.33" lengthAdjust="spacingAndGlyphs" fill="#222" stroke="#222" stroke-width="0.2" font-weight="normal" font-style="normal">24</text>
<text x="145.85" y="896.80" font-size="8.6" textLength="5.17" lengthAdjust="spacingAndGlyphs" fill="#222" stroke="#222" stroke-width="0.2" font-weight="normal" font-style="normal">4</text>
<text x="162.71" y="896.80" font-size="8.6" textLength="5.17" lengthAdjust="spacingAndGlyphs" fill="#222" stroke="#222" stroke-width="0.2" font-weight="normal" font-style="normal">1</text>
<text x="179.71" y="896.80" font-size="8.6" textLength="5.17" lengthAdjust="spacingAndGlyphs" fill="#222" stroke="#222" stroke-width="0.2" font-weight="normal" font-style="normal">1</text>
<text x="196.82" y="896.80" font-size="8.6" textLength="5.17" lengthAdjust="spacingAndGlyphs" fill="#222" stroke="#222" stroke-width="0.2" font-weight="normal" font-style="normal">0</text>
<text x="213.82" y="896.80" font-size="8.6" textLength="5.17" lengthAdjust="spacingAndGlyphs" fill="#222" stroke="#222" stroke-width="0.2" font-weight="normal" font-style="normal">0</text>
<text x="230.82" y="896.80" font-size="8.6" textLength="5.17" lengthAdjust="spacingAndGlyphs" fill="#222" stroke="#222" stroke-width="0.2" font-weight="normal" font-style="normal">0</text>
<text x="23.03" y="896.80" font-size="9.2" textLength="53.64" lengthAdjust="spacingAndGlyphs" fill="#30517a" stroke="#30517a" stroke-width="0.1" font-weight="normal" font-style="normal">Benda &lt; 6mo</text>
<text x="333.99" y="865.00" font-size="9.0" textLength="43.41" lengthAdjust="spacingAndGlyphs" fill="#222" stroke="#222" stroke-width="0.1" font-weight="normal" font-style="normal">Pts. as risk</text>
<text x="384.91" y="880.60" font-size="8.6" textLength="10.33" lengthAdjust="spacingAndGlyphs" fill="#222" stroke="#222" stroke-width="0.2" font-weight="normal" font-style="normal">46</text>
<text x="401.68" y="880.60" font-size="8.6" textLength="10.33" lengthAdjust="spacingAndGlyphs" fill="#222" stroke="#222" stroke-width="0.2" font-weight="normal" font-style="normal">18</text>
<text x="421.42" y="880.60" font-size="8.6" textLength="5.17" lengthAdjust="spacingAndGlyphs" fill="#222" stroke="#222" stroke-width="0.2" font-weight="normal" font-style="normal">7</text>
<text x="438.42" y="880.60" font-size="8.6" textLength="5.17" lengthAdjust="spacingAndGlyphs" fill="#222" stroke="#222" stroke-width="0.2" font-weight="normal" font-style="normal">5</text>
<text x="455.45" y="880.60" font-size="8.6" textLength="5.17" lengthAdjust="spacingAndGlyphs" fill="#222" stroke="#222" stroke-width="0.2" font-weight="normal" font-style="normal">3</text>
<text x="472.42" y="880.60" font-size="8.6" textLength="5.17" lengthAdjust="spacingAndGlyphs" fill="#222" stroke="#222" stroke-width="0.2" font-weight="normal" font-style="normal">2</text>
<text x="489.42" y="880.60" font-size="8.6" textLength="5.17" lengthAdjust="spacingAndGlyphs" fill="#222" stroke="#222" stroke-width="0.2" font-weight="normal" font-style="normal">0</text>
<text x="281.77" y="880.60" font-size="9.2" textLength="96.99" lengthAdjust="spacingAndGlyphs" fill="#a52246" stroke="#a52246" stroke-width="0.1" font-weight="normal" font-style="normal">Benda &gt; 6mo/No Benda</text>
<text x="384.73" y="896.80" font-size="8.6" textLength="10.33" lengthAdjust="spacingAndGlyphs" fill="#222" stroke="#222" stroke-width="0.2" font-weight="normal" font-style="normal">24</text>
<text x="401.66" y="896.80" font-size="8.6" textLength="10.33" lengthAdjust="spacingAndGlyphs" fill="#222" stroke="#222" stroke-width="0.2" font-weight="normal" font-style="normal">10</text>
<text x="421.31" y="896.80" font-size="8.6" textLength="5.17" lengthAdjust="spacingAndGlyphs" fill="#222" stroke="#222" stroke-width="0.2" font-weight="normal" font-style="normal">1</text>
<text x="438.31" y="896.80" font-size="8.6" textLength="5.17" lengthAdjust="spacingAndGlyphs" fill="#222" stroke="#222" stroke-width="0.2" font-weight="normal" font-style="normal">1</text>
<text x="455.42" y="896.80" font-size="8.6" textLength="5.17" lengthAdjust="spacingAndGlyphs" fill="#222" stroke="#222" stroke-width="0.2" font-weight="normal" font-style="normal">0</text>
<text x="472.42" y="896.80" font-size="8.6" textLength="5.17" lengthAdjust="spacingAndGlyphs" fill="#222" stroke="#222" stroke-width="0.2" font-weight="normal" font-style="normal">0</text>
<text x="489.42" y="896.80" font-size="8.6" textLength="5.17" lengthAdjust="spacingAndGlyphs" fill="#222" stroke="#222" stroke-width="0.2" font-weight="normal" font-style="normal">0</text>
<text x="281.78" y="896.80" font-size="9.2" textLength="53.64" lengthAdjust="spacingAndGlyphs" fill="#30517a" stroke="#30517a" stroke-width="0.1" font-weight="normal" font-style="normal">Benda &lt; 6mo</text>
</g>
<rect x="0.5" y="0.5" width="519" height="908" fill="none" stroke="#222" stroke-width="1"/>
</svg></body></html>
